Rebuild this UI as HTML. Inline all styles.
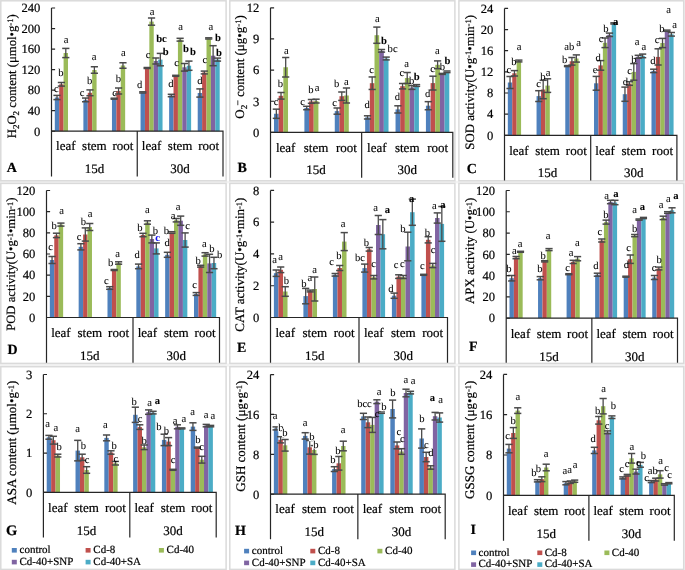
<!DOCTYPE html>
<html><head><meta charset="utf-8"><style>
html,body{margin:0;padding:0;background:#fff;}
svg{display:block;font-family:"Liberation Serif", serif;text-rendering:geometricPrecision;will-change:transform;filter:blur(0.3px);}
text{stroke:#000;stroke-width:0.2px;}
text.l{stroke-width:0.05px;}
</style></head><body>
<svg width="685" height="570" viewBox="0 0 685 570">
<rect x="0" y="0" width="685" height="570" fill="#fff"/>
<rect x="0" y="180.8" width="685" height="2.6" fill="#f3f3f3"/>
<rect x="0" y="363.4" width="685" height="3.3" fill="#f3f3f3"/>
<rect x="683.7" y="0" width="1.3" height="570" fill="#f3f3f3"/>
<rect x="0.8" y="0.8" width="225.3" height="180" fill="#fff" stroke="#dadada" stroke-width="1.5"/>
<rect x="54.8" y="97.5" width="4.4" height="33.7" fill="#4F81BD"/>
<rect x="59.2" y="84.3" width="4.4" height="46.9" fill="#C0504D"/>
<rect x="63.59" y="53" width="4.4" height="78.2" fill="#9BBB59"/>
<rect x="83.38" y="99.9" width="4.4" height="31.3" fill="#4F81BD"/>
<rect x="87.78" y="92.8" width="4.4" height="38.4" fill="#C0504D"/>
<rect x="92.18" y="70" width="4.4" height="61.2" fill="#9BBB59"/>
<rect x="111.96" y="98.7" width="4.4" height="32.5" fill="#4F81BD"/>
<rect x="116.36" y="91" width="4.4" height="40.2" fill="#C0504D"/>
<rect x="120.76" y="65.5" width="4.4" height="65.7" fill="#9BBB59"/>
<rect x="140.55" y="92.4" width="4.4" height="38.8" fill="#4F81BD"/>
<rect x="144.95" y="68" width="4.4" height="63.2" fill="#C0504D"/>
<rect x="149.34" y="21.6" width="4.4" height="109.6" fill="#9BBB59"/>
<rect x="153.74" y="61" width="4.4" height="70.2" fill="#8064A2"/>
<rect x="158.14" y="59.6" width="4.4" height="71.6" fill="#4BACC6"/>
<rect x="169.13" y="95.5" width="4.4" height="35.7" fill="#4F81BD"/>
<rect x="173.53" y="75.8" width="4.4" height="55.4" fill="#C0504D"/>
<rect x="177.93" y="39.7" width="4.4" height="91.5" fill="#9BBB59"/>
<rect x="182.32" y="67.3" width="4.4" height="63.9" fill="#8064A2"/>
<rect x="186.72" y="65.7" width="4.4" height="65.5" fill="#4BACC6"/>
<rect x="197.71" y="93" width="4.4" height="38.2" fill="#4F81BD"/>
<rect x="202.11" y="72.5" width="4.4" height="58.7" fill="#C0504D"/>
<rect x="206.51" y="38.4" width="4.4" height="92.8" fill="#9BBB59"/>
<rect x="210.91" y="55.7" width="4.4" height="75.5" fill="#8064A2"/>
<rect x="215.3" y="59.6" width="4.4" height="71.6" fill="#4BACC6"/>
<line x1="57" y1="95.4" x2="57" y2="99.6" stroke="#4a4a4a" stroke-width="1.3"/>
<line x1="53.4" y1="95.4" x2="60.6" y2="95.4" stroke="#4a4a4a" stroke-width="1.5"/>
<line x1="53.4" y1="99.6" x2="60.6" y2="99.6" stroke="#4a4a4a" stroke-width="1.5"/>
<line x1="61.39" y1="82.5" x2="61.39" y2="86.1" stroke="#4a4a4a" stroke-width="1.3"/>
<line x1="57.79" y1="82.5" x2="64.99" y2="82.5" stroke="#4a4a4a" stroke-width="1.5"/>
<line x1="57.79" y1="86.1" x2="64.99" y2="86.1" stroke="#4a4a4a" stroke-width="1.5"/>
<line x1="65.79" y1="48.4" x2="65.79" y2="57.6" stroke="#4a4a4a" stroke-width="1.3"/>
<line x1="62.19" y1="48.4" x2="69.39" y2="48.4" stroke="#4a4a4a" stroke-width="1.5"/>
<line x1="62.19" y1="57.6" x2="69.39" y2="57.6" stroke="#4a4a4a" stroke-width="1.5"/>
<line x1="85.58" y1="98.05" x2="85.58" y2="101.75" stroke="#4a4a4a" stroke-width="1.3"/>
<line x1="81.98" y1="98.05" x2="89.18" y2="98.05" stroke="#4a4a4a" stroke-width="1.5"/>
<line x1="81.98" y1="101.75" x2="89.18" y2="101.75" stroke="#4a4a4a" stroke-width="1.5"/>
<line x1="89.98" y1="89.9" x2="89.98" y2="95.7" stroke="#4a4a4a" stroke-width="1.3"/>
<line x1="86.38" y1="89.9" x2="93.58" y2="89.9" stroke="#4a4a4a" stroke-width="1.5"/>
<line x1="86.38" y1="95.7" x2="93.58" y2="95.7" stroke="#4a4a4a" stroke-width="1.5"/>
<line x1="94.38" y1="66.75" x2="94.38" y2="73.25" stroke="#4a4a4a" stroke-width="1.3"/>
<line x1="90.78" y1="66.75" x2="97.97" y2="66.75" stroke="#4a4a4a" stroke-width="1.5"/>
<line x1="90.78" y1="73.25" x2="97.97" y2="73.25" stroke="#4a4a4a" stroke-width="1.5"/>
<line x1="110.56" y1="98.2" x2="117.76" y2="98.2" stroke="#4a4a4a" stroke-width="1.5"/>
<line x1="110.56" y1="99.2" x2="117.76" y2="99.2" stroke="#4a4a4a" stroke-width="1.5"/>
<line x1="118.56" y1="88" x2="118.56" y2="94" stroke="#4a4a4a" stroke-width="1.3"/>
<line x1="114.96" y1="88" x2="122.16" y2="88" stroke="#4a4a4a" stroke-width="1.5"/>
<line x1="114.96" y1="94" x2="122.16" y2="94" stroke="#4a4a4a" stroke-width="1.5"/>
<line x1="122.96" y1="62.75" x2="122.96" y2="68.25" stroke="#4a4a4a" stroke-width="1.3"/>
<line x1="119.36" y1="62.75" x2="126.56" y2="62.75" stroke="#4a4a4a" stroke-width="1.5"/>
<line x1="119.36" y1="68.25" x2="126.56" y2="68.25" stroke="#4a4a4a" stroke-width="1.5"/>
<line x1="139.15" y1="91.8" x2="146.35" y2="91.8" stroke="#4a4a4a" stroke-width="1.5"/>
<line x1="139.15" y1="93" x2="146.35" y2="93" stroke="#4a4a4a" stroke-width="1.5"/>
<line x1="143.54" y1="67.5" x2="150.74" y2="67.5" stroke="#4a4a4a" stroke-width="1.5"/>
<line x1="143.54" y1="68.5" x2="150.74" y2="68.5" stroke="#4a4a4a" stroke-width="1.5"/>
<line x1="151.54" y1="18" x2="151.54" y2="25.2" stroke="#4a4a4a" stroke-width="1.3"/>
<line x1="147.94" y1="18" x2="155.14" y2="18" stroke="#4a4a4a" stroke-width="1.5"/>
<line x1="147.94" y1="25.2" x2="155.14" y2="25.2" stroke="#4a4a4a" stroke-width="1.5"/>
<line x1="155.94" y1="58" x2="155.94" y2="64" stroke="#4a4a4a" stroke-width="1.3"/>
<line x1="152.34" y1="58" x2="159.54" y2="58" stroke="#4a4a4a" stroke-width="1.5"/>
<line x1="152.34" y1="64" x2="159.54" y2="64" stroke="#4a4a4a" stroke-width="1.5"/>
<line x1="160.34" y1="53.4" x2="160.34" y2="65.8" stroke="#4a4a4a" stroke-width="1.3"/>
<line x1="156.74" y1="53.4" x2="163.94" y2="53.4" stroke="#4a4a4a" stroke-width="1.5"/>
<line x1="156.74" y1="65.8" x2="163.94" y2="65.8" stroke="#4a4a4a" stroke-width="1.5"/>
<line x1="171.33" y1="94.3" x2="171.33" y2="96.7" stroke="#4a4a4a" stroke-width="1.3"/>
<line x1="167.73" y1="94.3" x2="174.93" y2="94.3" stroke="#4a4a4a" stroke-width="1.5"/>
<line x1="167.73" y1="96.7" x2="174.93" y2="96.7" stroke="#4a4a4a" stroke-width="1.5"/>
<line x1="172.13" y1="75.3" x2="179.33" y2="75.3" stroke="#4a4a4a" stroke-width="1.5"/>
<line x1="172.13" y1="76.3" x2="179.33" y2="76.3" stroke="#4a4a4a" stroke-width="1.5"/>
<line x1="180.12" y1="38.3" x2="180.12" y2="41.1" stroke="#4a4a4a" stroke-width="1.3"/>
<line x1="176.52" y1="38.3" x2="183.72" y2="38.3" stroke="#4a4a4a" stroke-width="1.5"/>
<line x1="176.52" y1="41.1" x2="183.72" y2="41.1" stroke="#4a4a4a" stroke-width="1.5"/>
<line x1="184.52" y1="63.5" x2="184.52" y2="71.1" stroke="#4a4a4a" stroke-width="1.3"/>
<line x1="180.92" y1="63.5" x2="188.12" y2="63.5" stroke="#4a4a4a" stroke-width="1.5"/>
<line x1="180.92" y1="71.1" x2="188.12" y2="71.1" stroke="#4a4a4a" stroke-width="1.5"/>
<line x1="188.92" y1="61.1" x2="188.92" y2="70.3" stroke="#4a4a4a" stroke-width="1.3"/>
<line x1="185.32" y1="61.1" x2="192.52" y2="61.1" stroke="#4a4a4a" stroke-width="1.5"/>
<line x1="185.32" y1="70.3" x2="192.52" y2="70.3" stroke="#4a4a4a" stroke-width="1.5"/>
<line x1="199.91" y1="88.9" x2="199.91" y2="97.1" stroke="#4a4a4a" stroke-width="1.3"/>
<line x1="196.31" y1="88.9" x2="203.51" y2="88.9" stroke="#4a4a4a" stroke-width="1.5"/>
<line x1="196.31" y1="97.1" x2="203.51" y2="97.1" stroke="#4a4a4a" stroke-width="1.5"/>
<line x1="204.31" y1="71.1" x2="204.31" y2="73.9" stroke="#4a4a4a" stroke-width="1.3"/>
<line x1="200.71" y1="71.1" x2="207.91" y2="71.1" stroke="#4a4a4a" stroke-width="1.5"/>
<line x1="200.71" y1="73.9" x2="207.91" y2="73.9" stroke="#4a4a4a" stroke-width="1.5"/>
<line x1="205.11" y1="37.8" x2="212.31" y2="37.8" stroke="#4a4a4a" stroke-width="1.5"/>
<line x1="205.11" y1="39" x2="212.31" y2="39" stroke="#4a4a4a" stroke-width="1.5"/>
<line x1="213.11" y1="45.7" x2="213.11" y2="65.7" stroke="#4a4a4a" stroke-width="1.3"/>
<line x1="209.51" y1="45.7" x2="216.71" y2="45.7" stroke="#4a4a4a" stroke-width="1.5"/>
<line x1="209.51" y1="65.7" x2="216.71" y2="65.7" stroke="#4a4a4a" stroke-width="1.5"/>
<line x1="217.5" y1="58.1" x2="217.5" y2="61.1" stroke="#4a4a4a" stroke-width="1.3"/>
<line x1="213.9" y1="58.1" x2="221.1" y2="58.1" stroke="#4a4a4a" stroke-width="1.5"/>
<line x1="213.9" y1="61.1" x2="221.1" y2="61.1" stroke="#4a4a4a" stroke-width="1.5"/>
<path d="M51.5 8V176.5M51.5 131.2H223V176.5M137.25 131.2V176.5" fill="none" stroke="#262626" stroke-width="1.2"/>
<text x="40.3" y="135.5" text-anchor="end" font-size="12.6">0</text>
<text x="40.3" y="114.97" text-anchor="end" font-size="12.6">40</text>
<text x="40.3" y="94.43" text-anchor="end" font-size="12.6">80</text>
<text x="40.3" y="73.9" text-anchor="end" font-size="12.6">120</text>
<text x="40.3" y="53.37" text-anchor="end" font-size="12.6">160</text>
<text x="40.3" y="32.83" text-anchor="end" font-size="12.6">200</text>
<text x="40.3" y="12.3" text-anchor="end" font-size="12.6">240</text>
<path d="M51.5 131.2h3.6M51.5 110.67h3.6M51.5 90.13h3.6M51.5 69.6h3.6M51.5 49.07h3.6M51.5 28.53h3.6M51.5 8h3.6" stroke="#262626" stroke-width="1.2"/>
<text x="65.79" y="150.2" text-anchor="middle" font-size="13">leaf</text>
<text x="94.38" y="150.2" text-anchor="middle" font-size="13">stem</text>
<text x="122.96" y="150.2" text-anchor="middle" font-size="13">root</text>
<text x="151.54" y="150.2" text-anchor="middle" font-size="13">leaf</text>
<text x="180.12" y="150.2" text-anchor="middle" font-size="13">stem</text>
<text x="208.71" y="150.2" text-anchor="middle" font-size="13">root</text>
<text x="94.38" y="172.8" text-anchor="middle" font-size="13">15d</text>
<text x="180.12" y="172.8" text-anchor="middle" font-size="13">30d</text>
<text x="6.7" y="172" font-size="14" font-weight="bold">A</text>
<text transform="translate(15.5,14.3) rotate(-90)" text-anchor="end" font-size="12.7">H<tspan font-size="9" dy="3.3">2</tspan><tspan dy="-3.3">O</tspan><tspan font-size="9" dy="3.3">2</tspan><tspan dy="-3.3"> content (μmol•g</tspan><tspan font-size="8.5" dy="-2.6">-1</tspan><tspan dy="2.6">)</tspan></text>
<text class="l" x="56.4" y="92.3" text-anchor="middle" font-size="10.6">c</text>
<text class="l" x="61" y="75.6" text-anchor="middle" font-size="10.6">b</text>
<text class="l" x="66" y="43.4" text-anchor="middle" font-size="10.6">a</text>
<text class="l" x="82.2" y="95.9" text-anchor="middle" font-size="10.6">c</text>
<text class="l" x="89.6" y="83.6" text-anchor="middle" font-size="10.6">b</text>
<text class="l" x="94.2" y="60.4" text-anchor="middle" font-size="10.6">a</text>
<text class="l" x="114.5" y="95.9" text-anchor="middle" font-size="10.6">c</text>
<text class="l" x="118.5" y="82.4" text-anchor="middle" font-size="10.6">b</text>
<text class="l" x="123.3" y="55.8" text-anchor="middle" font-size="10.6">a</text>
<text class="l" x="139.7" y="87.6" text-anchor="middle" font-size="10.6">d</text>
<text class="l" x="148" y="58.1" text-anchor="middle" font-size="10.6">c</text>
<text class="l" x="152" y="14.5" text-anchor="middle" font-size="10.6">a</text>
<text class="l" x="161.5" y="41.6" text-anchor="middle" font-size="10.6" font-weight="bold">bc</text>
<text class="l" x="165.8" y="54.6" text-anchor="middle" font-size="10.6" font-weight="bold">b</text>
<text class="l" x="171" y="87" text-anchor="middle" font-size="10.6">d</text>
<text class="l" x="176.5" y="65.9" text-anchor="middle" font-size="10.6">c</text>
<text class="l" x="180.5" y="29.6" text-anchor="middle" font-size="10.6">a</text>
<text class="l" x="186" y="52.2" text-anchor="middle" font-size="10.6" font-weight="bold">b</text>
<text class="l" x="193" y="55.2" text-anchor="middle" font-size="10.6" font-weight="bold">b</text>
<text class="l" x="200" y="83.6" text-anchor="middle" font-size="10.6">d</text>
<text class="l" x="204.9" y="62.8" text-anchor="middle" font-size="10.6">c</text>
<text class="l" x="210.8" y="30.4" text-anchor="middle" font-size="10.6">a</text>
<text class="l" x="217.9" y="41" text-anchor="middle" font-size="10.6" font-weight="bold">b</text>
<text class="l" x="219" y="56.2" text-anchor="middle" font-size="10.6" font-weight="bold">b</text>
<rect x="229.8" y="0.8" width="225.1" height="180" fill="#fff" stroke="#dadada" stroke-width="1.5"/>
<rect x="274.01" y="113.75" width="4.67" height="18.65" fill="#4F81BD"/>
<rect x="278.68" y="95.8" width="4.67" height="36.6" fill="#C0504D"/>
<rect x="283.35" y="67.25" width="4.67" height="65.15" fill="#9BBB59"/>
<rect x="304.39" y="108" width="4.67" height="24.4" fill="#4F81BD"/>
<rect x="309.06" y="101.4" width="4.67" height="31" fill="#C0504D"/>
<rect x="313.74" y="101.1" width="4.67" height="31.3" fill="#9BBB59"/>
<rect x="334.77" y="111.1" width="4.67" height="21.3" fill="#4F81BD"/>
<rect x="339.45" y="96.2" width="4.67" height="36.2" fill="#C0504D"/>
<rect x="344.12" y="95.5" width="4.67" height="36.9" fill="#9BBB59"/>
<rect x="365.16" y="117.4" width="4.67" height="15" fill="#4F81BD"/>
<rect x="369.83" y="83.2" width="4.67" height="49.2" fill="#C0504D"/>
<rect x="374.5" y="35.2" width="4.67" height="97.2" fill="#9BBB59"/>
<rect x="379.18" y="50.8" width="4.67" height="81.6" fill="#8064A2"/>
<rect x="383.85" y="58.5" width="4.67" height="73.9" fill="#4BACC6"/>
<rect x="395.54" y="109.4" width="4.67" height="23" fill="#4F81BD"/>
<rect x="400.21" y="86.2" width="4.67" height="46.2" fill="#C0504D"/>
<rect x="404.89" y="78" width="4.67" height="54.4" fill="#9BBB59"/>
<rect x="409.56" y="87.5" width="4.67" height="44.9" fill="#8064A2"/>
<rect x="414.24" y="85.5" width="4.67" height="46.9" fill="#4BACC6"/>
<rect x="425.92" y="105.7" width="4.67" height="26.7" fill="#4F81BD"/>
<rect x="430.6" y="83.1" width="4.67" height="49.3" fill="#C0504D"/>
<rect x="435.27" y="64.8" width="4.67" height="67.6" fill="#9BBB59"/>
<rect x="439.95" y="73.9" width="4.67" height="58.5" fill="#8064A2"/>
<rect x="444.62" y="71.8" width="4.67" height="60.6" fill="#4BACC6"/>
<line x1="276.34" y1="109.15" x2="276.34" y2="118.35" stroke="#4a4a4a" stroke-width="1.3"/>
<line x1="272.74" y1="109.15" x2="279.94" y2="109.15" stroke="#4a4a4a" stroke-width="1.5"/>
<line x1="272.74" y1="118.35" x2="279.94" y2="118.35" stroke="#4a4a4a" stroke-width="1.5"/>
<line x1="281.02" y1="92.5" x2="281.02" y2="99.1" stroke="#4a4a4a" stroke-width="1.3"/>
<line x1="277.42" y1="92.5" x2="284.62" y2="92.5" stroke="#4a4a4a" stroke-width="1.5"/>
<line x1="277.42" y1="99.1" x2="284.62" y2="99.1" stroke="#4a4a4a" stroke-width="1.5"/>
<line x1="285.69" y1="57.5" x2="285.69" y2="77" stroke="#4a4a4a" stroke-width="1.3"/>
<line x1="282.09" y1="57.5" x2="289.29" y2="57.5" stroke="#4a4a4a" stroke-width="1.5"/>
<line x1="282.09" y1="77" x2="289.29" y2="77" stroke="#4a4a4a" stroke-width="1.5"/>
<line x1="306.73" y1="106.3" x2="306.73" y2="109.7" stroke="#4a4a4a" stroke-width="1.3"/>
<line x1="303.13" y1="106.3" x2="310.33" y2="106.3" stroke="#4a4a4a" stroke-width="1.5"/>
<line x1="303.13" y1="109.7" x2="310.33" y2="109.7" stroke="#4a4a4a" stroke-width="1.5"/>
<line x1="311.4" y1="99.5" x2="311.4" y2="103.3" stroke="#4a4a4a" stroke-width="1.3"/>
<line x1="307.8" y1="99.5" x2="315" y2="99.5" stroke="#4a4a4a" stroke-width="1.5"/>
<line x1="307.8" y1="103.3" x2="315" y2="103.3" stroke="#4a4a4a" stroke-width="1.5"/>
<line x1="316.07" y1="99.2" x2="316.07" y2="103" stroke="#4a4a4a" stroke-width="1.3"/>
<line x1="312.47" y1="99.2" x2="319.67" y2="99.2" stroke="#4a4a4a" stroke-width="1.5"/>
<line x1="312.47" y1="103" x2="319.67" y2="103" stroke="#4a4a4a" stroke-width="1.5"/>
<line x1="337.11" y1="108" x2="337.11" y2="114.2" stroke="#4a4a4a" stroke-width="1.3"/>
<line x1="333.51" y1="108" x2="340.71" y2="108" stroke="#4a4a4a" stroke-width="1.5"/>
<line x1="333.51" y1="114.2" x2="340.71" y2="114.2" stroke="#4a4a4a" stroke-width="1.5"/>
<line x1="341.78" y1="92" x2="341.78" y2="100.4" stroke="#4a4a4a" stroke-width="1.3"/>
<line x1="338.18" y1="92" x2="345.38" y2="92" stroke="#4a4a4a" stroke-width="1.5"/>
<line x1="338.18" y1="100.4" x2="345.38" y2="100.4" stroke="#4a4a4a" stroke-width="1.5"/>
<line x1="346.46" y1="88" x2="346.46" y2="103" stroke="#4a4a4a" stroke-width="1.3"/>
<line x1="342.86" y1="88" x2="350.06" y2="88" stroke="#4a4a4a" stroke-width="1.5"/>
<line x1="342.86" y1="103" x2="350.06" y2="103" stroke="#4a4a4a" stroke-width="1.5"/>
<line x1="367.49" y1="115.8" x2="367.49" y2="119" stroke="#4a4a4a" stroke-width="1.3"/>
<line x1="363.89" y1="115.8" x2="371.09" y2="115.8" stroke="#4a4a4a" stroke-width="1.5"/>
<line x1="363.89" y1="119" x2="371.09" y2="119" stroke="#4a4a4a" stroke-width="1.5"/>
<line x1="372.17" y1="76.95" x2="372.17" y2="89.45" stroke="#4a4a4a" stroke-width="1.3"/>
<line x1="368.57" y1="76.95" x2="375.77" y2="76.95" stroke="#4a4a4a" stroke-width="1.5"/>
<line x1="368.57" y1="89.45" x2="375.77" y2="89.45" stroke="#4a4a4a" stroke-width="1.5"/>
<line x1="376.84" y1="27.1" x2="376.84" y2="43.3" stroke="#4a4a4a" stroke-width="1.3"/>
<line x1="373.24" y1="27.1" x2="380.44" y2="27.1" stroke="#4a4a4a" stroke-width="1.5"/>
<line x1="373.24" y1="43.3" x2="380.44" y2="43.3" stroke="#4a4a4a" stroke-width="1.5"/>
<line x1="381.52" y1="49.5" x2="381.52" y2="52.1" stroke="#4a4a4a" stroke-width="1.3"/>
<line x1="377.92" y1="49.5" x2="385.12" y2="49.5" stroke="#4a4a4a" stroke-width="1.5"/>
<line x1="377.92" y1="52.1" x2="385.12" y2="52.1" stroke="#4a4a4a" stroke-width="1.5"/>
<line x1="386.19" y1="57.1" x2="386.19" y2="59.9" stroke="#4a4a4a" stroke-width="1.3"/>
<line x1="382.59" y1="57.1" x2="389.79" y2="57.1" stroke="#4a4a4a" stroke-width="1.5"/>
<line x1="382.59" y1="59.9" x2="389.79" y2="59.9" stroke="#4a4a4a" stroke-width="1.5"/>
<line x1="397.88" y1="105.8" x2="397.88" y2="113" stroke="#4a4a4a" stroke-width="1.3"/>
<line x1="394.28" y1="105.8" x2="401.48" y2="105.8" stroke="#4a4a4a" stroke-width="1.5"/>
<line x1="394.28" y1="113" x2="401.48" y2="113" stroke="#4a4a4a" stroke-width="1.5"/>
<line x1="402.55" y1="83.5" x2="402.55" y2="88.9" stroke="#4a4a4a" stroke-width="1.3"/>
<line x1="398.95" y1="83.5" x2="406.15" y2="83.5" stroke="#4a4a4a" stroke-width="1.5"/>
<line x1="398.95" y1="88.9" x2="406.15" y2="88.9" stroke="#4a4a4a" stroke-width="1.5"/>
<line x1="407.22" y1="72.5" x2="407.22" y2="83.5" stroke="#4a4a4a" stroke-width="1.3"/>
<line x1="403.62" y1="72.5" x2="410.82" y2="72.5" stroke="#4a4a4a" stroke-width="1.5"/>
<line x1="403.62" y1="83.5" x2="410.82" y2="83.5" stroke="#4a4a4a" stroke-width="1.5"/>
<line x1="411.9" y1="85.6" x2="411.9" y2="89.4" stroke="#4a4a4a" stroke-width="1.3"/>
<line x1="408.3" y1="85.6" x2="415.5" y2="85.6" stroke="#4a4a4a" stroke-width="1.5"/>
<line x1="408.3" y1="89.4" x2="415.5" y2="89.4" stroke="#4a4a4a" stroke-width="1.5"/>
<line x1="416.57" y1="84.6" x2="416.57" y2="86.4" stroke="#4a4a4a" stroke-width="1.3"/>
<line x1="412.97" y1="84.6" x2="420.17" y2="84.6" stroke="#4a4a4a" stroke-width="1.5"/>
<line x1="412.97" y1="86.4" x2="420.17" y2="86.4" stroke="#4a4a4a" stroke-width="1.5"/>
<line x1="428.26" y1="101.65" x2="428.26" y2="109.75" stroke="#4a4a4a" stroke-width="1.3"/>
<line x1="424.66" y1="101.65" x2="431.86" y2="101.65" stroke="#4a4a4a" stroke-width="1.5"/>
<line x1="424.66" y1="109.75" x2="431.86" y2="109.75" stroke="#4a4a4a" stroke-width="1.5"/>
<line x1="432.93" y1="76.2" x2="432.93" y2="90" stroke="#4a4a4a" stroke-width="1.3"/>
<line x1="429.33" y1="76.2" x2="436.53" y2="76.2" stroke="#4a4a4a" stroke-width="1.5"/>
<line x1="429.33" y1="90" x2="436.53" y2="90" stroke="#4a4a4a" stroke-width="1.5"/>
<line x1="437.61" y1="60.9" x2="437.61" y2="68.7" stroke="#4a4a4a" stroke-width="1.3"/>
<line x1="434.01" y1="60.9" x2="441.21" y2="60.9" stroke="#4a4a4a" stroke-width="1.5"/>
<line x1="434.01" y1="68.7" x2="441.21" y2="68.7" stroke="#4a4a4a" stroke-width="1.5"/>
<line x1="438.68" y1="73.4" x2="445.88" y2="73.4" stroke="#4a4a4a" stroke-width="1.5"/>
<line x1="438.68" y1="74.4" x2="445.88" y2="74.4" stroke="#4a4a4a" stroke-width="1.5"/>
<line x1="443.36" y1="71" x2="450.56" y2="71" stroke="#4a4a4a" stroke-width="1.5"/>
<line x1="443.36" y1="72.6" x2="450.56" y2="72.6" stroke="#4a4a4a" stroke-width="1.5"/>
<path d="M270.5 7.8V177.8M270.5 132.4H452.8V177.8M361.65 132.4V177.8" fill="none" stroke="#262626" stroke-width="1.2"/>
<text x="259.3" y="136.7" text-anchor="end" font-size="12.6">0</text>
<text x="259.3" y="105.55" text-anchor="end" font-size="12.6">3</text>
<text x="259.3" y="74.4" text-anchor="end" font-size="12.6">6</text>
<text x="259.3" y="43.25" text-anchor="end" font-size="12.6">9</text>
<text x="259.3" y="12.1" text-anchor="end" font-size="12.6">12</text>
<path d="M270.5 132.4h3.6M270.5 101.25h3.6M270.5 70.1h3.6M270.5 38.95h3.6M270.5 7.8h3.6" stroke="#262626" stroke-width="1.2"/>
<text x="285.69" y="151.8" text-anchor="middle" font-size="13">leaf</text>
<text x="316.07" y="151.8" text-anchor="middle" font-size="13">stem</text>
<text x="346.46" y="151.8" text-anchor="middle" font-size="13">root</text>
<text x="376.84" y="151.8" text-anchor="middle" font-size="13">leaf</text>
<text x="407.23" y="151.8" text-anchor="middle" font-size="13">stem</text>
<text x="437.61" y="151.8" text-anchor="middle" font-size="13">root</text>
<text x="316.07" y="174.1" text-anchor="middle" font-size="13">15d</text>
<text x="407.22" y="174.1" text-anchor="middle" font-size="13">30d</text>
<text x="237.4" y="171.6" font-size="14" font-weight="bold">B</text>
<text transform="translate(243.5,15.2) rotate(-90)" text-anchor="end" font-size="13">O<tspan font-size="9" dy="3.3">2</tspan><tspan font-size="9.5" dy="-6.3" dx="-0.8">−</tspan><tspan dy="3"> content (μg•g</tspan><tspan font-size="8.5" dy="-2.6">-1</tspan><tspan dy="2.6">)</tspan></text>
<text class="l" x="276" y="105.4" text-anchor="middle" font-size="10.6">c</text>
<text class="l" x="280.5" y="86.6" text-anchor="middle" font-size="10.6">b</text>
<text class="l" x="286.3" y="53.7" text-anchor="middle" font-size="10.6">a</text>
<text class="l" x="302.7" y="104.9" text-anchor="middle" font-size="10.6">c</text>
<text class="l" x="311" y="92.8" text-anchor="middle" font-size="10.6">b</text>
<text class="l" x="317.2" y="91.1" text-anchor="middle" font-size="10.6">a</text>
<text class="l" x="334.7" y="106.1" text-anchor="middle" font-size="10.6">c</text>
<text class="l" x="336.7" y="86.9" text-anchor="middle" font-size="10.6">b</text>
<text class="l" x="346.3" y="85.4" text-anchor="middle" font-size="10.6">a</text>
<text class="l" x="367.2" y="108.3" text-anchor="middle" font-size="10.6">d</text>
<text class="l" x="371.6" y="73.4" text-anchor="middle" font-size="10.6">c</text>
<text class="l" x="377.3" y="22.3" text-anchor="middle" font-size="10.6">a</text>
<text class="l" x="383.9" y="43.9" text-anchor="middle" font-size="10.6" font-weight="bold">b</text>
<text class="l" x="392.6" y="52" text-anchor="middle" font-size="10.6">bc</text>
<text class="l" x="397.5" y="100.2" text-anchor="middle" font-size="10.6">d</text>
<text class="l" x="401.9" y="76" text-anchor="middle" font-size="10.6">c</text>
<text class="l" x="406.7" y="66.8" text-anchor="middle" font-size="10.6">a</text>
<text class="l" x="411.7" y="84.2" text-anchor="middle" font-size="10.6">b</text>
<text class="l" x="416.8" y="80" text-anchor="middle" font-size="10.6" font-weight="bold">b</text>
<text class="l" x="427.7" y="96.9" text-anchor="middle" font-size="10.6">d</text>
<text class="l" x="432.6" y="71.6" text-anchor="middle" font-size="10.6">c</text>
<text class="l" x="437.4" y="54.1" text-anchor="middle" font-size="10.6">a</text>
<text class="l" x="442.4" y="69.5" text-anchor="middle" font-size="10.6">b</text>
<text class="l" x="447.5" y="64" text-anchor="middle" font-size="10.6" font-weight="bold">b</text>
<rect x="458.9" y="0.8" width="224.8" height="180" fill="#fff" stroke="#dadada" stroke-width="1.5"/>
<rect x="507.82" y="82.5" width="4.42" height="52.8" fill="#4F81BD"/>
<rect x="512.24" y="73.3" width="4.42" height="62" fill="#C0504D"/>
<rect x="516.66" y="61" width="4.42" height="74.3" fill="#9BBB59"/>
<rect x="536.55" y="96.1" width="4.42" height="39.2" fill="#4F81BD"/>
<rect x="540.97" y="89.5" width="4.42" height="45.8" fill="#C0504D"/>
<rect x="545.39" y="85.6" width="4.42" height="49.7" fill="#9BBB59"/>
<rect x="565.28" y="66.1" width="4.42" height="69.2" fill="#4F81BD"/>
<rect x="569.7" y="61.3" width="4.42" height="74" fill="#C0504D"/>
<rect x="574.12" y="58.5" width="4.42" height="76.8" fill="#9BBB59"/>
<rect x="594.02" y="83.3" width="4.42" height="52" fill="#4F81BD"/>
<rect x="598.44" y="65.4" width="4.42" height="69.9" fill="#C0504D"/>
<rect x="602.86" y="42.8" width="4.42" height="92.5" fill="#9BBB59"/>
<rect x="607.28" y="34.8" width="4.42" height="100.5" fill="#8064A2"/>
<rect x="611.7" y="23.4" width="4.42" height="111.9" fill="#4BACC6"/>
<rect x="622.75" y="94.2" width="4.42" height="41.1" fill="#4F81BD"/>
<rect x="627.17" y="83.5" width="4.42" height="51.8" fill="#C0504D"/>
<rect x="631.59" y="71.9" width="4.42" height="63.4" fill="#9BBB59"/>
<rect x="636.01" y="56.8" width="4.42" height="78.5" fill="#8064A2"/>
<rect x="640.43" y="55.9" width="4.42" height="79.4" fill="#4BACC6"/>
<rect x="651.48" y="70.9" width="4.42" height="64.4" fill="#4F81BD"/>
<rect x="655.9" y="56.9" width="4.42" height="78.4" fill="#C0504D"/>
<rect x="660.32" y="43" width="4.42" height="92.3" fill="#9BBB59"/>
<rect x="664.74" y="30.7" width="4.42" height="104.6" fill="#8064A2"/>
<rect x="669.16" y="34.3" width="4.42" height="101" fill="#4BACC6"/>
<line x1="510.03" y1="76.5" x2="510.03" y2="88.5" stroke="#4a4a4a" stroke-width="1.3"/>
<line x1="506.43" y1="76.5" x2="513.63" y2="76.5" stroke="#4a4a4a" stroke-width="1.5"/>
<line x1="506.43" y1="88.5" x2="513.63" y2="88.5" stroke="#4a4a4a" stroke-width="1.5"/>
<line x1="514.45" y1="70.6" x2="514.45" y2="76" stroke="#4a4a4a" stroke-width="1.3"/>
<line x1="510.85" y1="70.6" x2="518.05" y2="70.6" stroke="#4a4a4a" stroke-width="1.5"/>
<line x1="510.85" y1="76" x2="518.05" y2="76" stroke="#4a4a4a" stroke-width="1.5"/>
<line x1="518.87" y1="60.1" x2="518.87" y2="61.9" stroke="#4a4a4a" stroke-width="1.3"/>
<line x1="515.27" y1="60.1" x2="522.47" y2="60.1" stroke="#4a4a4a" stroke-width="1.5"/>
<line x1="515.27" y1="61.9" x2="522.47" y2="61.9" stroke="#4a4a4a" stroke-width="1.5"/>
<line x1="538.76" y1="90.7" x2="538.76" y2="101.5" stroke="#4a4a4a" stroke-width="1.3"/>
<line x1="535.16" y1="90.7" x2="542.36" y2="90.7" stroke="#4a4a4a" stroke-width="1.5"/>
<line x1="535.16" y1="101.5" x2="542.36" y2="101.5" stroke="#4a4a4a" stroke-width="1.5"/>
<line x1="543.18" y1="80.3" x2="543.18" y2="98.7" stroke="#4a4a4a" stroke-width="1.3"/>
<line x1="539.58" y1="80.3" x2="546.78" y2="80.3" stroke="#4a4a4a" stroke-width="1.5"/>
<line x1="539.58" y1="98.7" x2="546.78" y2="98.7" stroke="#4a4a4a" stroke-width="1.5"/>
<line x1="547.6" y1="78.8" x2="547.6" y2="92.4" stroke="#4a4a4a" stroke-width="1.3"/>
<line x1="544" y1="78.8" x2="551.2" y2="78.8" stroke="#4a4a4a" stroke-width="1.5"/>
<line x1="544" y1="92.4" x2="551.2" y2="92.4" stroke="#4a4a4a" stroke-width="1.5"/>
<line x1="563.89" y1="65.6" x2="571.09" y2="65.6" stroke="#4a4a4a" stroke-width="1.5"/>
<line x1="563.89" y1="66.6" x2="571.09" y2="66.6" stroke="#4a4a4a" stroke-width="1.5"/>
<line x1="571.91" y1="57.5" x2="571.91" y2="65.1" stroke="#4a4a4a" stroke-width="1.3"/>
<line x1="568.31" y1="57.5" x2="575.51" y2="57.5" stroke="#4a4a4a" stroke-width="1.5"/>
<line x1="568.31" y1="65.1" x2="575.51" y2="65.1" stroke="#4a4a4a" stroke-width="1.5"/>
<line x1="576.33" y1="54.9" x2="576.33" y2="62.1" stroke="#4a4a4a" stroke-width="1.3"/>
<line x1="572.73" y1="54.9" x2="579.93" y2="54.9" stroke="#4a4a4a" stroke-width="1.5"/>
<line x1="572.73" y1="62.1" x2="579.93" y2="62.1" stroke="#4a4a4a" stroke-width="1.5"/>
<line x1="596.23" y1="76.4" x2="596.23" y2="90.2" stroke="#4a4a4a" stroke-width="1.3"/>
<line x1="592.63" y1="76.4" x2="599.83" y2="76.4" stroke="#4a4a4a" stroke-width="1.5"/>
<line x1="592.63" y1="90.2" x2="599.83" y2="90.2" stroke="#4a4a4a" stroke-width="1.5"/>
<line x1="600.65" y1="60.6" x2="600.65" y2="70.2" stroke="#4a4a4a" stroke-width="1.3"/>
<line x1="597.05" y1="60.6" x2="604.25" y2="60.6" stroke="#4a4a4a" stroke-width="1.5"/>
<line x1="597.05" y1="70.2" x2="604.25" y2="70.2" stroke="#4a4a4a" stroke-width="1.5"/>
<line x1="605.07" y1="38" x2="605.07" y2="47.6" stroke="#4a4a4a" stroke-width="1.3"/>
<line x1="601.47" y1="38" x2="608.67" y2="38" stroke="#4a4a4a" stroke-width="1.5"/>
<line x1="601.47" y1="47.6" x2="608.67" y2="47.6" stroke="#4a4a4a" stroke-width="1.5"/>
<line x1="609.49" y1="33.1" x2="609.49" y2="36.5" stroke="#4a4a4a" stroke-width="1.3"/>
<line x1="605.89" y1="33.1" x2="613.09" y2="33.1" stroke="#4a4a4a" stroke-width="1.5"/>
<line x1="605.89" y1="36.5" x2="613.09" y2="36.5" stroke="#4a4a4a" stroke-width="1.5"/>
<line x1="610.31" y1="22.8" x2="617.51" y2="22.8" stroke="#4a4a4a" stroke-width="1.5"/>
<line x1="610.31" y1="24" x2="617.51" y2="24" stroke="#4a4a4a" stroke-width="1.5"/>
<line x1="624.96" y1="87.1" x2="624.96" y2="101.3" stroke="#4a4a4a" stroke-width="1.3"/>
<line x1="621.36" y1="87.1" x2="628.56" y2="87.1" stroke="#4a4a4a" stroke-width="1.5"/>
<line x1="621.36" y1="101.3" x2="628.56" y2="101.3" stroke="#4a4a4a" stroke-width="1.5"/>
<line x1="629.38" y1="81.7" x2="629.38" y2="85.3" stroke="#4a4a4a" stroke-width="1.3"/>
<line x1="625.78" y1="81.7" x2="632.98" y2="81.7" stroke="#4a4a4a" stroke-width="1.5"/>
<line x1="625.78" y1="85.3" x2="632.98" y2="85.3" stroke="#4a4a4a" stroke-width="1.5"/>
<line x1="633.8" y1="63.6" x2="633.8" y2="80.2" stroke="#4a4a4a" stroke-width="1.3"/>
<line x1="630.2" y1="63.6" x2="637.4" y2="63.6" stroke="#4a4a4a" stroke-width="1.5"/>
<line x1="630.2" y1="80.2" x2="637.4" y2="80.2" stroke="#4a4a4a" stroke-width="1.5"/>
<line x1="638.22" y1="55.3" x2="638.22" y2="58.3" stroke="#4a4a4a" stroke-width="1.3"/>
<line x1="634.62" y1="55.3" x2="641.82" y2="55.3" stroke="#4a4a4a" stroke-width="1.5"/>
<line x1="634.62" y1="58.3" x2="641.82" y2="58.3" stroke="#4a4a4a" stroke-width="1.5"/>
<line x1="642.64" y1="54.1" x2="642.64" y2="57.7" stroke="#4a4a4a" stroke-width="1.3"/>
<line x1="639.04" y1="54.1" x2="646.24" y2="54.1" stroke="#4a4a4a" stroke-width="1.5"/>
<line x1="639.04" y1="57.7" x2="646.24" y2="57.7" stroke="#4a4a4a" stroke-width="1.5"/>
<line x1="653.69" y1="69.2" x2="653.69" y2="72.6" stroke="#4a4a4a" stroke-width="1.3"/>
<line x1="650.09" y1="69.2" x2="657.29" y2="69.2" stroke="#4a4a4a" stroke-width="1.5"/>
<line x1="650.09" y1="72.6" x2="657.29" y2="72.6" stroke="#4a4a4a" stroke-width="1.5"/>
<line x1="658.11" y1="48.8" x2="658.11" y2="65" stroke="#4a4a4a" stroke-width="1.3"/>
<line x1="654.51" y1="48.8" x2="661.71" y2="48.8" stroke="#4a4a4a" stroke-width="1.5"/>
<line x1="654.51" y1="65" x2="661.71" y2="65" stroke="#4a4a4a" stroke-width="1.5"/>
<line x1="662.53" y1="38.4" x2="662.53" y2="47.6" stroke="#4a4a4a" stroke-width="1.3"/>
<line x1="658.93" y1="38.4" x2="666.13" y2="38.4" stroke="#4a4a4a" stroke-width="1.5"/>
<line x1="658.93" y1="47.6" x2="666.13" y2="47.6" stroke="#4a4a4a" stroke-width="1.5"/>
<line x1="663.35" y1="30.1" x2="670.55" y2="30.1" stroke="#4a4a4a" stroke-width="1.5"/>
<line x1="663.35" y1="31.3" x2="670.55" y2="31.3" stroke="#4a4a4a" stroke-width="1.5"/>
<line x1="671.37" y1="32.5" x2="671.37" y2="36.1" stroke="#4a4a4a" stroke-width="1.3"/>
<line x1="667.77" y1="32.5" x2="674.97" y2="32.5" stroke="#4a4a4a" stroke-width="1.5"/>
<line x1="667.77" y1="36.1" x2="674.97" y2="36.1" stroke="#4a4a4a" stroke-width="1.5"/>
<path d="M504.5 8.4V180.6M504.5 135.3H676.9V180.6M590.7 135.3V180.6" fill="none" stroke="#262626" stroke-width="1.2"/>
<text x="493.3" y="139.6" text-anchor="end" font-size="12.6">0</text>
<text x="493.3" y="118.45" text-anchor="end" font-size="12.6">4</text>
<text x="493.3" y="97.3" text-anchor="end" font-size="12.6">8</text>
<text x="493.3" y="76.15" text-anchor="end" font-size="12.6">12</text>
<text x="493.3" y="55" text-anchor="end" font-size="12.6">16</text>
<text x="493.3" y="33.85" text-anchor="end" font-size="12.6">20</text>
<text x="493.3" y="12.7" text-anchor="end" font-size="12.6">24</text>
<path d="M504.5 135.3h3.6M504.5 114.15h3.6M504.5 93h3.6M504.5 71.85h3.6M504.5 50.7h3.6M504.5 29.55h3.6M504.5 8.4h3.6" stroke="#262626" stroke-width="1.2"/>
<text x="518.87" y="155" text-anchor="middle" font-size="13">leaf</text>
<text x="547.6" y="155" text-anchor="middle" font-size="13">stem</text>
<text x="576.33" y="155" text-anchor="middle" font-size="13">root</text>
<text x="605.07" y="155" text-anchor="middle" font-size="13">leaf</text>
<text x="633.8" y="155" text-anchor="middle" font-size="13">stem</text>
<text x="662.53" y="155" text-anchor="middle" font-size="13">root</text>
<text x="547.6" y="177.4" text-anchor="middle" font-size="13">15d</text>
<text x="633.8" y="177.4" text-anchor="middle" font-size="13">30d</text>
<text x="466.7" y="172.8" font-size="14" font-weight="bold">C</text>
<text transform="translate(473.9,15) rotate(-90)" text-anchor="end" font-size="12.83">SOD activity(U•g<tspan font-size="8.5" dy="-2.6">-1</tspan><tspan dy="2.6">•min</tspan><tspan font-size="8.5" dy="-2.6">-1</tspan><tspan dy="2.6">)</tspan></text>
<text class="l" x="508.8" y="72.7" text-anchor="middle" font-size="10.6">c</text>
<text class="l" x="513.9" y="64.9" text-anchor="middle" font-size="10.6">b</text>
<text class="l" x="519" y="50.1" text-anchor="middle" font-size="10.6">a</text>
<text class="l" x="538.6" y="86.6" text-anchor="middle" font-size="10.6">c</text>
<text class="l" x="542.8" y="79.6" text-anchor="middle" font-size="10.6">b</text>
<text class="l" x="548" y="75.6" text-anchor="middle" font-size="10.6">a</text>
<text class="l" x="564.6" y="63.2" text-anchor="middle" font-size="10.6">b</text>
<text class="l" x="569.2" y="50.1" text-anchor="middle" font-size="10.6">ab</text>
<text class="l" x="578.6" y="45.8" text-anchor="middle" font-size="10.6">a</text>
<text class="l" x="595.2" y="73.3" text-anchor="middle" font-size="10.6">e</text>
<text class="l" x="598.1" y="61.3" text-anchor="middle" font-size="10.6">d</text>
<text class="l" x="601.2" y="42.1" text-anchor="middle" font-size="10.6">c</text>
<text class="l" x="606" y="32" text-anchor="middle" font-size="10.6">b</text>
<text class="l" x="615.6" y="25.2" text-anchor="middle" font-size="10.6" font-weight="bold">a</text>
<text class="l" x="625.4" y="84.7" text-anchor="middle" font-size="10.6">d</text>
<text class="l" x="629.7" y="74.3" text-anchor="middle" font-size="10.6">c</text>
<text class="l" x="634" y="62.6" text-anchor="middle" font-size="10.6">b</text>
<text class="l" x="637.1" y="45.4" text-anchor="middle" font-size="10.6">a</text>
<text class="l" x="643.9" y="49.7" text-anchor="middle" font-size="10.6">a</text>
<text class="l" x="652.9" y="64.2" text-anchor="middle" font-size="10.6">d</text>
<text class="l" x="657.2" y="42.8" text-anchor="middle" font-size="10.6">c</text>
<text class="l" x="662" y="32" text-anchor="middle" font-size="10.6">b</text>
<text class="l" x="668.5" y="13.2" text-anchor="middle" font-size="10.6">a</text>
<text class="l" x="674.5" y="28.4" text-anchor="middle" font-size="10.6">a</text>
<rect x="0.8" y="183.4" width="225.3" height="180" fill="#fff" stroke="#dadada" stroke-width="1.5"/>
<rect x="49.83" y="260" width="4.44" height="57.5" fill="#4F81BD"/>
<rect x="54.26" y="235.4" width="4.44" height="82.1" fill="#C0504D"/>
<rect x="58.7" y="224.6" width="4.44" height="92.9" fill="#9BBB59"/>
<rect x="78.66" y="246.8" width="4.44" height="70.7" fill="#4F81BD"/>
<rect x="83.1" y="234.5" width="4.44" height="83" fill="#C0504D"/>
<rect x="87.53" y="227" width="4.44" height="90.5" fill="#9BBB59"/>
<rect x="107.49" y="288" width="4.44" height="29.5" fill="#4F81BD"/>
<rect x="111.93" y="270" width="4.44" height="47.5" fill="#C0504D"/>
<rect x="116.37" y="263" width="4.44" height="54.5" fill="#9BBB59"/>
<rect x="136.33" y="266.4" width="4.44" height="51.1" fill="#4F81BD"/>
<rect x="140.76" y="235" width="4.44" height="82.5" fill="#C0504D"/>
<rect x="145.2" y="222.5" width="4.44" height="95" fill="#9BBB59"/>
<rect x="149.63" y="239" width="4.44" height="78.5" fill="#8064A2"/>
<rect x="154.07" y="248.4" width="4.44" height="69.1" fill="#4BACC6"/>
<rect x="165.16" y="254.8" width="4.44" height="62.7" fill="#4F81BD"/>
<rect x="169.6" y="232.5" width="4.44" height="85" fill="#C0504D"/>
<rect x="174.03" y="220.2" width="4.44" height="97.3" fill="#9BBB59"/>
<rect x="178.47" y="220.7" width="4.44" height="96.8" fill="#8064A2"/>
<rect x="182.9" y="240" width="4.44" height="77.5" fill="#4BACC6"/>
<rect x="193.99" y="294" width="4.44" height="23.5" fill="#4F81BD"/>
<rect x="198.43" y="266.2" width="4.44" height="51.3" fill="#C0504D"/>
<rect x="202.87" y="254.4" width="4.44" height="63.1" fill="#9BBB59"/>
<rect x="207.3" y="263.4" width="4.44" height="54.1" fill="#8064A2"/>
<rect x="211.74" y="263" width="4.44" height="54.5" fill="#4BACC6"/>
<line x1="52.04" y1="256.5" x2="52.04" y2="263.5" stroke="#4a4a4a" stroke-width="1.3"/>
<line x1="48.44" y1="256.5" x2="55.64" y2="256.5" stroke="#4a4a4a" stroke-width="1.5"/>
<line x1="48.44" y1="263.5" x2="55.64" y2="263.5" stroke="#4a4a4a" stroke-width="1.5"/>
<line x1="56.48" y1="233.2" x2="56.48" y2="237.6" stroke="#4a4a4a" stroke-width="1.3"/>
<line x1="52.88" y1="233.2" x2="60.08" y2="233.2" stroke="#4a4a4a" stroke-width="1.5"/>
<line x1="52.88" y1="237.6" x2="60.08" y2="237.6" stroke="#4a4a4a" stroke-width="1.5"/>
<line x1="60.92" y1="223.1" x2="60.92" y2="226.1" stroke="#4a4a4a" stroke-width="1.3"/>
<line x1="57.32" y1="223.1" x2="64.52" y2="223.1" stroke="#4a4a4a" stroke-width="1.5"/>
<line x1="57.32" y1="226.1" x2="64.52" y2="226.1" stroke="#4a4a4a" stroke-width="1.5"/>
<line x1="80.88" y1="243.7" x2="80.88" y2="249.9" stroke="#4a4a4a" stroke-width="1.3"/>
<line x1="77.28" y1="243.7" x2="84.48" y2="243.7" stroke="#4a4a4a" stroke-width="1.5"/>
<line x1="77.28" y1="249.9" x2="84.48" y2="249.9" stroke="#4a4a4a" stroke-width="1.5"/>
<line x1="85.31" y1="227.9" x2="85.31" y2="241.1" stroke="#4a4a4a" stroke-width="1.3"/>
<line x1="81.71" y1="227.9" x2="88.91" y2="227.9" stroke="#4a4a4a" stroke-width="1.5"/>
<line x1="81.71" y1="241.1" x2="88.91" y2="241.1" stroke="#4a4a4a" stroke-width="1.5"/>
<line x1="89.75" y1="223.5" x2="89.75" y2="230.5" stroke="#4a4a4a" stroke-width="1.3"/>
<line x1="86.15" y1="223.5" x2="93.35" y2="223.5" stroke="#4a4a4a" stroke-width="1.5"/>
<line x1="86.15" y1="230.5" x2="93.35" y2="230.5" stroke="#4a4a4a" stroke-width="1.5"/>
<line x1="109.71" y1="286.7" x2="109.71" y2="289.3" stroke="#4a4a4a" stroke-width="1.3"/>
<line x1="106.11" y1="286.7" x2="113.31" y2="286.7" stroke="#4a4a4a" stroke-width="1.5"/>
<line x1="106.11" y1="289.3" x2="113.31" y2="289.3" stroke="#4a4a4a" stroke-width="1.5"/>
<line x1="110.55" y1="269.5" x2="117.75" y2="269.5" stroke="#4a4a4a" stroke-width="1.5"/>
<line x1="110.55" y1="270.5" x2="117.75" y2="270.5" stroke="#4a4a4a" stroke-width="1.5"/>
<line x1="118.58" y1="261.8" x2="118.58" y2="264.2" stroke="#4a4a4a" stroke-width="1.3"/>
<line x1="114.98" y1="261.8" x2="122.18" y2="261.8" stroke="#4a4a4a" stroke-width="1.5"/>
<line x1="114.98" y1="264.2" x2="122.18" y2="264.2" stroke="#4a4a4a" stroke-width="1.5"/>
<line x1="138.54" y1="264.1" x2="138.54" y2="268.7" stroke="#4a4a4a" stroke-width="1.3"/>
<line x1="134.94" y1="264.1" x2="142.14" y2="264.1" stroke="#4a4a4a" stroke-width="1.5"/>
<line x1="134.94" y1="268.7" x2="142.14" y2="268.7" stroke="#4a4a4a" stroke-width="1.5"/>
<line x1="142.98" y1="233.3" x2="142.98" y2="236.7" stroke="#4a4a4a" stroke-width="1.3"/>
<line x1="139.38" y1="233.3" x2="146.58" y2="233.3" stroke="#4a4a4a" stroke-width="1.5"/>
<line x1="139.38" y1="236.7" x2="146.58" y2="236.7" stroke="#4a4a4a" stroke-width="1.5"/>
<line x1="147.42" y1="220.8" x2="147.42" y2="224.2" stroke="#4a4a4a" stroke-width="1.3"/>
<line x1="143.82" y1="220.8" x2="151.02" y2="220.8" stroke="#4a4a4a" stroke-width="1.5"/>
<line x1="143.82" y1="224.2" x2="151.02" y2="224.2" stroke="#4a4a4a" stroke-width="1.5"/>
<line x1="151.85" y1="235.1" x2="151.85" y2="242.9" stroke="#4a4a4a" stroke-width="1.3"/>
<line x1="148.25" y1="235.1" x2="155.45" y2="235.1" stroke="#4a4a4a" stroke-width="1.5"/>
<line x1="148.25" y1="242.9" x2="155.45" y2="242.9" stroke="#4a4a4a" stroke-width="1.5"/>
<line x1="156.29" y1="242.9" x2="156.29" y2="253.9" stroke="#4a4a4a" stroke-width="1.3"/>
<line x1="152.69" y1="242.9" x2="159.89" y2="242.9" stroke="#4a4a4a" stroke-width="1.5"/>
<line x1="152.69" y1="253.9" x2="159.89" y2="253.9" stroke="#4a4a4a" stroke-width="1.5"/>
<line x1="167.38" y1="252.3" x2="167.38" y2="257.3" stroke="#4a4a4a" stroke-width="1.3"/>
<line x1="163.78" y1="252.3" x2="170.98" y2="252.3" stroke="#4a4a4a" stroke-width="1.5"/>
<line x1="163.78" y1="257.3" x2="170.98" y2="257.3" stroke="#4a4a4a" stroke-width="1.5"/>
<line x1="168.21" y1="231.7" x2="175.41" y2="231.7" stroke="#4a4a4a" stroke-width="1.5"/>
<line x1="168.21" y1="233.3" x2="175.41" y2="233.3" stroke="#4a4a4a" stroke-width="1.5"/>
<line x1="176.25" y1="218.5" x2="176.25" y2="221.9" stroke="#4a4a4a" stroke-width="1.3"/>
<line x1="172.65" y1="218.5" x2="179.85" y2="218.5" stroke="#4a4a4a" stroke-width="1.5"/>
<line x1="172.65" y1="221.9" x2="179.85" y2="221.9" stroke="#4a4a4a" stroke-width="1.5"/>
<line x1="180.69" y1="216.1" x2="180.69" y2="225.3" stroke="#4a4a4a" stroke-width="1.3"/>
<line x1="177.09" y1="216.1" x2="184.29" y2="216.1" stroke="#4a4a4a" stroke-width="1.5"/>
<line x1="177.09" y1="225.3" x2="184.29" y2="225.3" stroke="#4a4a4a" stroke-width="1.5"/>
<line x1="185.12" y1="232.9" x2="185.12" y2="247.1" stroke="#4a4a4a" stroke-width="1.3"/>
<line x1="181.52" y1="232.9" x2="188.72" y2="232.9" stroke="#4a4a4a" stroke-width="1.5"/>
<line x1="181.52" y1="247.1" x2="188.72" y2="247.1" stroke="#4a4a4a" stroke-width="1.5"/>
<line x1="196.21" y1="292.6" x2="196.21" y2="295.4" stroke="#4a4a4a" stroke-width="1.3"/>
<line x1="192.61" y1="292.6" x2="199.81" y2="292.6" stroke="#4a4a4a" stroke-width="1.5"/>
<line x1="192.61" y1="295.4" x2="199.81" y2="295.4" stroke="#4a4a4a" stroke-width="1.5"/>
<line x1="200.65" y1="265.3" x2="200.65" y2="267.1" stroke="#4a4a4a" stroke-width="1.3"/>
<line x1="197.05" y1="265.3" x2="204.25" y2="265.3" stroke="#4a4a4a" stroke-width="1.5"/>
<line x1="197.05" y1="267.1" x2="204.25" y2="267.1" stroke="#4a4a4a" stroke-width="1.5"/>
<line x1="205.08" y1="252.7" x2="205.08" y2="256.1" stroke="#4a4a4a" stroke-width="1.3"/>
<line x1="201.48" y1="252.7" x2="208.68" y2="252.7" stroke="#4a4a4a" stroke-width="1.5"/>
<line x1="201.48" y1="256.1" x2="208.68" y2="256.1" stroke="#4a4a4a" stroke-width="1.5"/>
<line x1="209.52" y1="254.3" x2="209.52" y2="272.5" stroke="#4a4a4a" stroke-width="1.3"/>
<line x1="205.92" y1="254.3" x2="213.12" y2="254.3" stroke="#4a4a4a" stroke-width="1.5"/>
<line x1="205.92" y1="272.5" x2="213.12" y2="272.5" stroke="#4a4a4a" stroke-width="1.5"/>
<line x1="213.96" y1="257.3" x2="213.96" y2="268.7" stroke="#4a4a4a" stroke-width="1.3"/>
<line x1="210.36" y1="257.3" x2="217.56" y2="257.3" stroke="#4a4a4a" stroke-width="1.5"/>
<line x1="210.36" y1="268.7" x2="217.56" y2="268.7" stroke="#4a4a4a" stroke-width="1.5"/>
<path d="M46.5 190.5V362.7M46.5 317.5H219.5V362.7M133 317.5V362.7" fill="none" stroke="#262626" stroke-width="1.2"/>
<text x="35.3" y="321.8" text-anchor="end" font-size="12.6">0</text>
<text x="35.3" y="300.63" text-anchor="end" font-size="12.6">20</text>
<text x="35.3" y="279.47" text-anchor="end" font-size="12.6">40</text>
<text x="35.3" y="258.3" text-anchor="end" font-size="12.6">60</text>
<text x="35.3" y="237.13" text-anchor="end" font-size="12.6">80</text>
<text x="35.3" y="215.97" text-anchor="end" font-size="12.6">100</text>
<text x="35.3" y="194.8" text-anchor="end" font-size="12.6">120</text>
<path d="M46.5 317.5h3.6M46.5 296.33h3.6M46.5 275.17h3.6M46.5 254h3.6M46.5 232.83h3.6M46.5 211.67h3.6M46.5 190.5h3.6" stroke="#262626" stroke-width="1.2"/>
<text x="60.92" y="337" text-anchor="middle" font-size="13">leaf</text>
<text x="89.75" y="337" text-anchor="middle" font-size="13">stem</text>
<text x="118.58" y="337" text-anchor="middle" font-size="13">root</text>
<text x="147.42" y="337" text-anchor="middle" font-size="13">leaf</text>
<text x="176.25" y="337" text-anchor="middle" font-size="13">stem</text>
<text x="205.08" y="337" text-anchor="middle" font-size="13">root</text>
<text x="89.75" y="359.7" text-anchor="middle" font-size="13">15d</text>
<text x="176.25" y="359.7" text-anchor="middle" font-size="13">30d</text>
<text x="7.4" y="353.6" font-size="14" font-weight="bold">D</text>
<text transform="translate(15.3,197.6) rotate(-90)" text-anchor="end" font-size="12.68">POD activity(U•g<tspan font-size="8.5" dy="-2.6">-1</tspan><tspan dy="2.6">•min</tspan><tspan font-size="8.5" dy="-2.6">-1</tspan><tspan dy="2.6">)</tspan></text>
<text class="l" x="50.5" y="249.9" text-anchor="middle" font-size="10.6">c</text>
<text class="l" x="54.2" y="228.6" text-anchor="middle" font-size="10.6">b</text>
<text class="l" x="61.5" y="214.3" text-anchor="middle" font-size="10.6">a</text>
<text class="l" x="79.1" y="239.9" text-anchor="middle" font-size="10.6">c</text>
<text class="l" x="83.5" y="225.4" text-anchor="middle" font-size="10.6">b</text>
<text class="l" x="90" y="217" text-anchor="middle" font-size="10.6">a</text>
<text class="l" x="106.3" y="284.2" text-anchor="middle" font-size="10.6">c</text>
<text class="l" x="110.7" y="265.7" text-anchor="middle" font-size="10.6">b</text>
<text class="l" x="117.7" y="257.1" text-anchor="middle" font-size="10.6">a</text>
<text class="l" x="137.1" y="257.9" text-anchor="middle" font-size="10.6">d</text>
<text class="l" x="139.9" y="230.5" text-anchor="middle" font-size="10.6">b</text>
<text class="l" x="147.4" y="212.9" text-anchor="middle" font-size="10.6">a</text>
<text class="l" x="155.4" y="233.5" text-anchor="middle" font-size="10.6">b</text>
<text class="l" x="157.6" y="241" text-anchor="middle" font-size="10.6" fill="#1010ff" stroke="none" font-weight="bold">c</text>
<text class="l" x="167.2" y="245.6" text-anchor="middle" font-size="10.6">d</text>
<text class="l" x="166.3" y="234.2" text-anchor="middle" font-size="10.6">b</text>
<text class="l" x="173.2" y="219.3" text-anchor="middle" font-size="10.6">a</text>
<text class="l" x="178.2" y="209.5" text-anchor="middle" font-size="10.6">a</text>
<text class="l" x="187.7" y="228.9" text-anchor="middle" font-size="10.6">c</text>
<text class="l" x="194.6" y="287.7" text-anchor="middle" font-size="10.6">c</text>
<text class="l" x="198.2" y="263.8" text-anchor="middle" font-size="10.6">b</text>
<text class="l" x="204.4" y="247.1" text-anchor="middle" font-size="10.6">a</text>
<text class="l" x="211.9" y="252.4" text-anchor="middle" font-size="10.6">b</text>
<text class="l" x="219.7" y="257.5" text-anchor="middle" font-size="10.6">b</text>
<rect x="229.8" y="183.4" width="225.1" height="180" fill="#fff" stroke="#dadada" stroke-width="1.5"/>
<rect x="273.9" y="273.2" width="4.54" height="44.3" fill="#4F81BD"/>
<rect x="278.44" y="269.8" width="4.54" height="47.7" fill="#C0504D"/>
<rect x="282.98" y="291.5" width="4.54" height="26" fill="#9BBB59"/>
<rect x="303.4" y="296.1" width="4.54" height="21.4" fill="#4F81BD"/>
<rect x="307.94" y="291" width="4.54" height="26.5" fill="#C0504D"/>
<rect x="312.48" y="289" width="4.54" height="28.5" fill="#9BBB59"/>
<rect x="332.9" y="274.8" width="4.54" height="42.7" fill="#4F81BD"/>
<rect x="337.44" y="268" width="4.54" height="49.5" fill="#C0504D"/>
<rect x="341.98" y="241.6" width="4.54" height="75.9" fill="#9BBB59"/>
<rect x="362.4" y="268.1" width="4.54" height="49.4" fill="#4F81BD"/>
<rect x="366.94" y="249.3" width="4.54" height="68.2" fill="#C0504D"/>
<rect x="371.48" y="277.2" width="4.54" height="40.3" fill="#9BBB59"/>
<rect x="376.02" y="225" width="4.54" height="92.5" fill="#8064A2"/>
<rect x="380.56" y="234.2" width="4.54" height="83.3" fill="#4BACC6"/>
<rect x="391.9" y="295.7" width="4.54" height="21.8" fill="#4F81BD"/>
<rect x="396.44" y="276.6" width="4.54" height="40.9" fill="#C0504D"/>
<rect x="400.98" y="277" width="4.54" height="40.5" fill="#9BBB59"/>
<rect x="405.52" y="246.5" width="4.54" height="71" fill="#8064A2"/>
<rect x="410.06" y="212.2" width="4.54" height="105.3" fill="#4BACC6"/>
<rect x="421.4" y="274.8" width="4.54" height="42.7" fill="#4F81BD"/>
<rect x="425.94" y="239.8" width="4.54" height="77.7" fill="#C0504D"/>
<rect x="430.48" y="265.5" width="4.54" height="52" fill="#9BBB59"/>
<rect x="435.02" y="218" width="4.54" height="99.5" fill="#8064A2"/>
<rect x="439.56" y="223.9" width="4.54" height="93.6" fill="#4BACC6"/>
<line x1="276.17" y1="270" x2="276.17" y2="276.4" stroke="#4a4a4a" stroke-width="1.3"/>
<line x1="272.57" y1="270" x2="279.77" y2="270" stroke="#4a4a4a" stroke-width="1.5"/>
<line x1="272.57" y1="276.4" x2="279.77" y2="276.4" stroke="#4a4a4a" stroke-width="1.5"/>
<line x1="280.71" y1="267" x2="280.71" y2="272.6" stroke="#4a4a4a" stroke-width="1.3"/>
<line x1="277.11" y1="267" x2="284.31" y2="267" stroke="#4a4a4a" stroke-width="1.5"/>
<line x1="277.11" y1="272.6" x2="284.31" y2="272.6" stroke="#4a4a4a" stroke-width="1.5"/>
<line x1="285.25" y1="286.7" x2="285.25" y2="296.3" stroke="#4a4a4a" stroke-width="1.3"/>
<line x1="281.65" y1="286.7" x2="288.85" y2="286.7" stroke="#4a4a4a" stroke-width="1.5"/>
<line x1="281.65" y1="296.3" x2="288.85" y2="296.3" stroke="#4a4a4a" stroke-width="1.5"/>
<line x1="305.67" y1="288.4" x2="305.67" y2="303.8" stroke="#4a4a4a" stroke-width="1.3"/>
<line x1="302.07" y1="288.4" x2="309.27" y2="288.4" stroke="#4a4a4a" stroke-width="1.5"/>
<line x1="302.07" y1="303.8" x2="309.27" y2="303.8" stroke="#4a4a4a" stroke-width="1.5"/>
<line x1="310.21" y1="290.1" x2="310.21" y2="291.9" stroke="#4a4a4a" stroke-width="1.3"/>
<line x1="306.61" y1="290.1" x2="313.81" y2="290.1" stroke="#4a4a4a" stroke-width="1.5"/>
<line x1="306.61" y1="291.9" x2="313.81" y2="291.9" stroke="#4a4a4a" stroke-width="1.5"/>
<line x1="314.75" y1="277" x2="314.75" y2="301" stroke="#4a4a4a" stroke-width="1.3"/>
<line x1="311.15" y1="277" x2="318.35" y2="277" stroke="#4a4a4a" stroke-width="1.5"/>
<line x1="311.15" y1="301" x2="318.35" y2="301" stroke="#4a4a4a" stroke-width="1.5"/>
<line x1="335.17" y1="273.5" x2="335.17" y2="276.1" stroke="#4a4a4a" stroke-width="1.3"/>
<line x1="331.57" y1="273.5" x2="338.77" y2="273.5" stroke="#4a4a4a" stroke-width="1.5"/>
<line x1="331.57" y1="276.1" x2="338.77" y2="276.1" stroke="#4a4a4a" stroke-width="1.5"/>
<line x1="339.71" y1="265.5" x2="339.71" y2="270.5" stroke="#4a4a4a" stroke-width="1.3"/>
<line x1="336.11" y1="265.5" x2="343.31" y2="265.5" stroke="#4a4a4a" stroke-width="1.5"/>
<line x1="336.11" y1="270.5" x2="343.31" y2="270.5" stroke="#4a4a4a" stroke-width="1.5"/>
<line x1="344.25" y1="232.6" x2="344.25" y2="250.6" stroke="#4a4a4a" stroke-width="1.3"/>
<line x1="340.65" y1="232.6" x2="347.85" y2="232.6" stroke="#4a4a4a" stroke-width="1.5"/>
<line x1="340.65" y1="250.6" x2="347.85" y2="250.6" stroke="#4a4a4a" stroke-width="1.5"/>
<line x1="364.67" y1="264.1" x2="364.67" y2="272.1" stroke="#4a4a4a" stroke-width="1.3"/>
<line x1="361.07" y1="264.1" x2="368.27" y2="264.1" stroke="#4a4a4a" stroke-width="1.5"/>
<line x1="361.07" y1="272.1" x2="368.27" y2="272.1" stroke="#4a4a4a" stroke-width="1.5"/>
<line x1="369.21" y1="247.5" x2="369.21" y2="251.1" stroke="#4a4a4a" stroke-width="1.3"/>
<line x1="365.61" y1="247.5" x2="372.81" y2="247.5" stroke="#4a4a4a" stroke-width="1.5"/>
<line x1="365.61" y1="251.1" x2="372.81" y2="251.1" stroke="#4a4a4a" stroke-width="1.5"/>
<line x1="373.75" y1="275.5" x2="373.75" y2="278.9" stroke="#4a4a4a" stroke-width="1.3"/>
<line x1="370.15" y1="275.5" x2="377.35" y2="275.5" stroke="#4a4a4a" stroke-width="1.5"/>
<line x1="370.15" y1="278.9" x2="377.35" y2="278.9" stroke="#4a4a4a" stroke-width="1.5"/>
<line x1="378.29" y1="215.5" x2="378.29" y2="234.5" stroke="#4a4a4a" stroke-width="1.3"/>
<line x1="374.69" y1="215.5" x2="381.89" y2="215.5" stroke="#4a4a4a" stroke-width="1.5"/>
<line x1="374.69" y1="234.5" x2="381.89" y2="234.5" stroke="#4a4a4a" stroke-width="1.5"/>
<line x1="382.83" y1="219.6" x2="382.83" y2="248.8" stroke="#4a4a4a" stroke-width="1.3"/>
<line x1="379.23" y1="219.6" x2="386.43" y2="219.6" stroke="#4a4a4a" stroke-width="1.5"/>
<line x1="379.23" y1="248.8" x2="386.43" y2="248.8" stroke="#4a4a4a" stroke-width="1.5"/>
<line x1="394.17" y1="293.1" x2="394.17" y2="298.3" stroke="#4a4a4a" stroke-width="1.3"/>
<line x1="390.57" y1="293.1" x2="397.77" y2="293.1" stroke="#4a4a4a" stroke-width="1.5"/>
<line x1="390.57" y1="298.3" x2="397.77" y2="298.3" stroke="#4a4a4a" stroke-width="1.5"/>
<line x1="398.71" y1="274.8" x2="398.71" y2="278.4" stroke="#4a4a4a" stroke-width="1.3"/>
<line x1="395.11" y1="274.8" x2="402.31" y2="274.8" stroke="#4a4a4a" stroke-width="1.5"/>
<line x1="395.11" y1="278.4" x2="402.31" y2="278.4" stroke="#4a4a4a" stroke-width="1.5"/>
<line x1="403.25" y1="275.5" x2="403.25" y2="278.5" stroke="#4a4a4a" stroke-width="1.3"/>
<line x1="399.65" y1="275.5" x2="406.85" y2="275.5" stroke="#4a4a4a" stroke-width="1.5"/>
<line x1="399.65" y1="278.5" x2="406.85" y2="278.5" stroke="#4a4a4a" stroke-width="1.5"/>
<line x1="407.79" y1="232.2" x2="407.79" y2="260.8" stroke="#4a4a4a" stroke-width="1.3"/>
<line x1="404.19" y1="232.2" x2="411.39" y2="232.2" stroke="#4a4a4a" stroke-width="1.5"/>
<line x1="404.19" y1="260.8" x2="411.39" y2="260.8" stroke="#4a4a4a" stroke-width="1.5"/>
<line x1="412.33" y1="199.1" x2="412.33" y2="225.3" stroke="#4a4a4a" stroke-width="1.3"/>
<line x1="408.73" y1="199.1" x2="415.93" y2="199.1" stroke="#4a4a4a" stroke-width="1.5"/>
<line x1="408.73" y1="225.3" x2="415.93" y2="225.3" stroke="#4a4a4a" stroke-width="1.5"/>
<line x1="420.07" y1="274.3" x2="427.27" y2="274.3" stroke="#4a4a4a" stroke-width="1.5"/>
<line x1="420.07" y1="275.3" x2="427.27" y2="275.3" stroke="#4a4a4a" stroke-width="1.5"/>
<line x1="428.21" y1="236.7" x2="428.21" y2="242.9" stroke="#4a4a4a" stroke-width="1.3"/>
<line x1="424.61" y1="236.7" x2="431.81" y2="236.7" stroke="#4a4a4a" stroke-width="1.5"/>
<line x1="424.61" y1="242.9" x2="431.81" y2="242.9" stroke="#4a4a4a" stroke-width="1.5"/>
<line x1="432.75" y1="263.4" x2="432.75" y2="267.6" stroke="#4a4a4a" stroke-width="1.3"/>
<line x1="429.15" y1="263.4" x2="436.35" y2="263.4" stroke="#4a4a4a" stroke-width="1.5"/>
<line x1="429.15" y1="267.6" x2="436.35" y2="267.6" stroke="#4a4a4a" stroke-width="1.5"/>
<line x1="437.29" y1="212.9" x2="437.29" y2="223.1" stroke="#4a4a4a" stroke-width="1.3"/>
<line x1="433.69" y1="212.9" x2="440.89" y2="212.9" stroke="#4a4a4a" stroke-width="1.5"/>
<line x1="433.69" y1="223.1" x2="440.89" y2="223.1" stroke="#4a4a4a" stroke-width="1.5"/>
<line x1="441.83" y1="206.5" x2="441.83" y2="241.3" stroke="#4a4a4a" stroke-width="1.3"/>
<line x1="438.23" y1="206.5" x2="445.43" y2="206.5" stroke="#4a4a4a" stroke-width="1.5"/>
<line x1="438.23" y1="241.3" x2="445.43" y2="241.3" stroke="#4a4a4a" stroke-width="1.5"/>
<path d="M270.5 190.4V362.8M270.5 317.5H447.5V362.8M359 317.5V362.8" fill="none" stroke="#262626" stroke-width="1.2"/>
<text x="259.3" y="321.8" text-anchor="end" font-size="12.6">0</text>
<text x="259.3" y="290.03" text-anchor="end" font-size="12.6">2</text>
<text x="259.3" y="258.25" text-anchor="end" font-size="12.6">4</text>
<text x="259.3" y="226.48" text-anchor="end" font-size="12.6">6</text>
<text x="259.3" y="194.7" text-anchor="end" font-size="12.6">8</text>
<path d="M270.5 317.5h3.6M270.5 285.73h3.6M270.5 253.95h3.6M270.5 222.18h3.6M270.5 190.4h3.6" stroke="#262626" stroke-width="1.2"/>
<text x="285.25" y="337" text-anchor="middle" font-size="13">leaf</text>
<text x="314.75" y="337" text-anchor="middle" font-size="13">stem</text>
<text x="344.25" y="337" text-anchor="middle" font-size="13">root</text>
<text x="373.75" y="337" text-anchor="middle" font-size="13">leaf</text>
<text x="403.25" y="337" text-anchor="middle" font-size="13">stem</text>
<text x="432.75" y="337" text-anchor="middle" font-size="13">root</text>
<text x="314.75" y="359.7" text-anchor="middle" font-size="13">15d</text>
<text x="403.25" y="359.7" text-anchor="middle" font-size="13">30d</text>
<text x="237" y="351.5" font-size="14" font-weight="bold">E</text>
<text transform="translate(244.3,197.6) rotate(-90)" text-anchor="end" font-size="12.94">CAT activity(U•g<tspan font-size="8.5" dy="-2.6">-1</tspan><tspan dy="2.6">•min</tspan><tspan font-size="8.5" dy="-2.6">-1</tspan><tspan dy="2.6">)</tspan></text>
<text class="l" x="274.7" y="263.1" text-anchor="middle" font-size="10.6">a</text>
<text class="l" x="280.6" y="260.1" text-anchor="middle" font-size="10.6">a</text>
<text class="l" x="286.4" y="284.1" text-anchor="middle" font-size="10.6">b</text>
<text class="l" x="304" y="287.1" text-anchor="middle" font-size="10.6">b</text>
<text class="l" x="309.8" y="281.2" text-anchor="middle" font-size="10.6">a</text>
<text class="l" x="314.5" y="273.3" text-anchor="middle" font-size="10.6">a</text>
<text class="l" x="331.5" y="265.4" text-anchor="middle" font-size="10.6">c</text>
<text class="l" x="339" y="258.7" text-anchor="middle" font-size="10.6">b</text>
<text class="l" x="343.1" y="226.8" text-anchor="middle" font-size="10.6">a</text>
<text class="l" x="360" y="261.4" text-anchor="middle" font-size="10.6">bc</text>
<text class="l" x="366.4" y="245.6" text-anchor="middle" font-size="10.6">b</text>
<text class="l" x="373.7" y="267.2" text-anchor="middle" font-size="10.6">c</text>
<text class="l" x="375.5" y="211.1" text-anchor="middle" font-size="10.6">a</text>
<text class="l" x="387.4" y="212.9" text-anchor="middle" font-size="10.6" font-weight="bold">a</text>
<text class="l" x="391" y="291.7" text-anchor="middle" font-size="10.6">d</text>
<text class="l" x="396" y="268.1" text-anchor="middle" font-size="10.6">c</text>
<text class="l" x="402.4" y="266.5" text-anchor="middle" font-size="10.6">c</text>
<text class="l" x="402.9" y="231.9" text-anchor="middle" font-size="10.6">b</text>
<text class="l" x="411.6" y="202" text-anchor="middle" font-size="10.6" font-weight="bold">a</text>
<text class="l" x="422.3" y="268.8" text-anchor="middle" font-size="10.6">c</text>
<text class="l" x="427.5" y="235.8" text-anchor="middle" font-size="10.6">b</text>
<text class="l" x="433" y="252.8" text-anchor="middle" font-size="10.6">c</text>
<text class="l" x="434.4" y="208.8" text-anchor="middle" font-size="10.6">a</text>
<text class="l" x="442.8" y="207.9" text-anchor="middle" font-size="10.6" font-weight="bold">a</text>
<rect x="458.9" y="183.4" width="224.8" height="180" fill="#fff" stroke="#dadada" stroke-width="1.5"/>
<rect x="509.49" y="278.2" width="4.39" height="39.9" fill="#4F81BD"/>
<rect x="513.89" y="257.6" width="4.39" height="60.5" fill="#C0504D"/>
<rect x="518.28" y="251.8" width="4.39" height="66.3" fill="#9BBB59"/>
<rect x="538.04" y="278.2" width="4.39" height="39.9" fill="#4F81BD"/>
<rect x="542.44" y="261.3" width="4.39" height="56.8" fill="#C0504D"/>
<rect x="546.83" y="249.6" width="4.39" height="68.5" fill="#9BBB59"/>
<rect x="566.59" y="274.2" width="4.39" height="43.9" fill="#4F81BD"/>
<rect x="570.99" y="261.9" width="4.39" height="56.2" fill="#C0504D"/>
<rect x="575.38" y="258.7" width="4.39" height="59.4" fill="#9BBB59"/>
<rect x="595.14" y="274.7" width="4.39" height="43.4" fill="#4F81BD"/>
<rect x="599.54" y="240.5" width="4.39" height="77.6" fill="#C0504D"/>
<rect x="603.93" y="222.1" width="4.39" height="96" fill="#9BBB59"/>
<rect x="608.32" y="202" width="4.39" height="116.1" fill="#8064A2"/>
<rect x="612.71" y="202.5" width="4.39" height="115.6" fill="#4BACC6"/>
<rect x="623.69" y="276.7" width="4.39" height="41.4" fill="#4F81BD"/>
<rect x="628.09" y="259.2" width="4.39" height="58.9" fill="#C0504D"/>
<rect x="632.48" y="235.6" width="4.39" height="82.5" fill="#9BBB59"/>
<rect x="636.87" y="219.6" width="4.39" height="98.5" fill="#8064A2"/>
<rect x="641.26" y="218" width="4.39" height="100.1" fill="#4BACC6"/>
<rect x="652.24" y="277.5" width="4.39" height="40.6" fill="#4F81BD"/>
<rect x="656.64" y="268.5" width="4.39" height="49.6" fill="#C0504D"/>
<rect x="661.03" y="217.9" width="4.39" height="100.2" fill="#9BBB59"/>
<rect x="665.42" y="212.5" width="4.39" height="105.6" fill="#8064A2"/>
<rect x="669.81" y="210.3" width="4.39" height="107.8" fill="#4BACC6"/>
<line x1="511.69" y1="275.5" x2="511.69" y2="280.9" stroke="#4a4a4a" stroke-width="1.3"/>
<line x1="508.09" y1="275.5" x2="515.29" y2="275.5" stroke="#4a4a4a" stroke-width="1.5"/>
<line x1="508.09" y1="280.9" x2="515.29" y2="280.9" stroke="#4a4a4a" stroke-width="1.5"/>
<line x1="516.08" y1="256.5" x2="516.08" y2="258.7" stroke="#4a4a4a" stroke-width="1.3"/>
<line x1="512.48" y1="256.5" x2="519.68" y2="256.5" stroke="#4a4a4a" stroke-width="1.5"/>
<line x1="512.48" y1="258.7" x2="519.68" y2="258.7" stroke="#4a4a4a" stroke-width="1.5"/>
<line x1="516.88" y1="251.3" x2="524.08" y2="251.3" stroke="#4a4a4a" stroke-width="1.5"/>
<line x1="516.88" y1="252.3" x2="524.08" y2="252.3" stroke="#4a4a4a" stroke-width="1.5"/>
<line x1="540.24" y1="276.6" x2="540.24" y2="279.8" stroke="#4a4a4a" stroke-width="1.3"/>
<line x1="536.64" y1="276.6" x2="543.84" y2="276.6" stroke="#4a4a4a" stroke-width="1.5"/>
<line x1="536.64" y1="279.8" x2="543.84" y2="279.8" stroke="#4a4a4a" stroke-width="1.5"/>
<line x1="541.03" y1="260.7" x2="548.23" y2="260.7" stroke="#4a4a4a" stroke-width="1.5"/>
<line x1="541.03" y1="261.9" x2="548.23" y2="261.9" stroke="#4a4a4a" stroke-width="1.5"/>
<line x1="549.02" y1="248.6" x2="549.02" y2="250.6" stroke="#4a4a4a" stroke-width="1.3"/>
<line x1="545.42" y1="248.6" x2="552.62" y2="248.6" stroke="#4a4a4a" stroke-width="1.5"/>
<line x1="545.42" y1="250.6" x2="552.62" y2="250.6" stroke="#4a4a4a" stroke-width="1.5"/>
<line x1="565.19" y1="273.7" x2="572.39" y2="273.7" stroke="#4a4a4a" stroke-width="1.5"/>
<line x1="565.19" y1="274.7" x2="572.39" y2="274.7" stroke="#4a4a4a" stroke-width="1.5"/>
<line x1="573.18" y1="260.3" x2="573.18" y2="263.5" stroke="#4a4a4a" stroke-width="1.3"/>
<line x1="569.58" y1="260.3" x2="576.78" y2="260.3" stroke="#4a4a4a" stroke-width="1.5"/>
<line x1="569.58" y1="263.5" x2="576.78" y2="263.5" stroke="#4a4a4a" stroke-width="1.5"/>
<line x1="577.57" y1="256.6" x2="577.57" y2="260.8" stroke="#4a4a4a" stroke-width="1.3"/>
<line x1="573.97" y1="256.6" x2="581.17" y2="256.6" stroke="#4a4a4a" stroke-width="1.5"/>
<line x1="573.97" y1="260.8" x2="581.17" y2="260.8" stroke="#4a4a4a" stroke-width="1.5"/>
<line x1="597.34" y1="273.2" x2="597.34" y2="276.2" stroke="#4a4a4a" stroke-width="1.3"/>
<line x1="593.74" y1="273.2" x2="600.94" y2="273.2" stroke="#4a4a4a" stroke-width="1.5"/>
<line x1="593.74" y1="276.2" x2="600.94" y2="276.2" stroke="#4a4a4a" stroke-width="1.5"/>
<line x1="601.73" y1="239" x2="601.73" y2="242" stroke="#4a4a4a" stroke-width="1.3"/>
<line x1="598.13" y1="239" x2="605.33" y2="239" stroke="#4a4a4a" stroke-width="1.5"/>
<line x1="598.13" y1="242" x2="605.33" y2="242" stroke="#4a4a4a" stroke-width="1.5"/>
<line x1="606.12" y1="220.1" x2="606.12" y2="224.1" stroke="#4a4a4a" stroke-width="1.3"/>
<line x1="602.52" y1="220.1" x2="609.72" y2="220.1" stroke="#4a4a4a" stroke-width="1.5"/>
<line x1="602.52" y1="224.1" x2="609.72" y2="224.1" stroke="#4a4a4a" stroke-width="1.5"/>
<line x1="610.52" y1="200.3" x2="610.52" y2="203.7" stroke="#4a4a4a" stroke-width="1.3"/>
<line x1="606.92" y1="200.3" x2="614.12" y2="200.3" stroke="#4a4a4a" stroke-width="1.5"/>
<line x1="606.92" y1="203.7" x2="614.12" y2="203.7" stroke="#4a4a4a" stroke-width="1.5"/>
<line x1="614.91" y1="200.3" x2="614.91" y2="204.7" stroke="#4a4a4a" stroke-width="1.3"/>
<line x1="611.31" y1="200.3" x2="618.51" y2="200.3" stroke="#4a4a4a" stroke-width="1.5"/>
<line x1="611.31" y1="204.7" x2="618.51" y2="204.7" stroke="#4a4a4a" stroke-width="1.5"/>
<line x1="622.29" y1="276.2" x2="629.49" y2="276.2" stroke="#4a4a4a" stroke-width="1.5"/>
<line x1="622.29" y1="277.2" x2="629.49" y2="277.2" stroke="#4a4a4a" stroke-width="1.5"/>
<line x1="630.28" y1="255" x2="630.28" y2="263.4" stroke="#4a4a4a" stroke-width="1.3"/>
<line x1="626.68" y1="255" x2="633.88" y2="255" stroke="#4a4a4a" stroke-width="1.5"/>
<line x1="626.68" y1="263.4" x2="633.88" y2="263.4" stroke="#4a4a4a" stroke-width="1.5"/>
<line x1="634.67" y1="234.5" x2="634.67" y2="236.7" stroke="#4a4a4a" stroke-width="1.3"/>
<line x1="631.07" y1="234.5" x2="638.27" y2="234.5" stroke="#4a4a4a" stroke-width="1.5"/>
<line x1="631.07" y1="236.7" x2="638.27" y2="236.7" stroke="#4a4a4a" stroke-width="1.5"/>
<line x1="635.47" y1="219" x2="642.67" y2="219" stroke="#4a4a4a" stroke-width="1.5"/>
<line x1="635.47" y1="220.2" x2="642.67" y2="220.2" stroke="#4a4a4a" stroke-width="1.5"/>
<line x1="639.86" y1="217.4" x2="647.06" y2="217.4" stroke="#4a4a4a" stroke-width="1.5"/>
<line x1="639.86" y1="218.6" x2="647.06" y2="218.6" stroke="#4a4a4a" stroke-width="1.5"/>
<line x1="654.44" y1="275.5" x2="654.44" y2="279.5" stroke="#4a4a4a" stroke-width="1.3"/>
<line x1="650.84" y1="275.5" x2="658.04" y2="275.5" stroke="#4a4a4a" stroke-width="1.5"/>
<line x1="650.84" y1="279.5" x2="658.04" y2="279.5" stroke="#4a4a4a" stroke-width="1.5"/>
<line x1="658.83" y1="267.1" x2="658.83" y2="269.9" stroke="#4a4a4a" stroke-width="1.3"/>
<line x1="655.23" y1="267.1" x2="662.43" y2="267.1" stroke="#4a4a4a" stroke-width="1.5"/>
<line x1="655.23" y1="269.9" x2="662.43" y2="269.9" stroke="#4a4a4a" stroke-width="1.5"/>
<line x1="663.22" y1="216.2" x2="663.22" y2="219.6" stroke="#4a4a4a" stroke-width="1.3"/>
<line x1="659.62" y1="216.2" x2="666.82" y2="216.2" stroke="#4a4a4a" stroke-width="1.5"/>
<line x1="659.62" y1="219.6" x2="666.82" y2="219.6" stroke="#4a4a4a" stroke-width="1.5"/>
<line x1="664.02" y1="211.7" x2="671.22" y2="211.7" stroke="#4a4a4a" stroke-width="1.5"/>
<line x1="664.02" y1="213.3" x2="671.22" y2="213.3" stroke="#4a4a4a" stroke-width="1.5"/>
<line x1="672.01" y1="207.8" x2="672.01" y2="212.8" stroke="#4a4a4a" stroke-width="1.3"/>
<line x1="668.41" y1="207.8" x2="675.61" y2="207.8" stroke="#4a4a4a" stroke-width="1.5"/>
<line x1="668.41" y1="212.8" x2="675.61" y2="212.8" stroke="#4a4a4a" stroke-width="1.5"/>
<path d="M506.2 190.5V362.8M506.2 318.1H677.5V362.8M591.85 318.1V362.8" fill="none" stroke="#262626" stroke-width="1.2"/>
<text x="495" y="322.4" text-anchor="end" font-size="12.6">0</text>
<text x="495" y="301.13" text-anchor="end" font-size="12.6">20</text>
<text x="495" y="279.87" text-anchor="end" font-size="12.6">40</text>
<text x="495" y="258.6" text-anchor="end" font-size="12.6">60</text>
<text x="495" y="237.33" text-anchor="end" font-size="12.6">80</text>
<text x="495" y="216.07" text-anchor="end" font-size="12.6">100</text>
<text x="495" y="194.8" text-anchor="end" font-size="12.6">120</text>
<path d="M506.2 318.1h3.6M506.2 296.83h3.6M506.2 275.57h3.6M506.2 254.3h3.6M506.2 233.03h3.6M506.2 211.77h3.6M506.2 190.5h3.6" stroke="#262626" stroke-width="1.2"/>
<text x="520.48" y="337.5" text-anchor="middle" font-size="13">leaf</text>
<text x="549.02" y="337.5" text-anchor="middle" font-size="13">stem</text>
<text x="577.57" y="337.5" text-anchor="middle" font-size="13">root</text>
<text x="606.12" y="337.5" text-anchor="middle" font-size="13">leaf</text>
<text x="634.67" y="337.5" text-anchor="middle" font-size="13">stem</text>
<text x="663.23" y="337.5" text-anchor="middle" font-size="13">root</text>
<text x="549.02" y="360.5" text-anchor="middle" font-size="13">15d</text>
<text x="634.68" y="360.5" text-anchor="middle" font-size="13">30d</text>
<text x="468.9" y="351" font-size="14" font-weight="bold">F</text>
<text transform="translate(474.2,197.6) rotate(-90)" text-anchor="end" font-size="12.84">APX activity (U•g<tspan font-size="8.5" dy="-2.6">-1</tspan><tspan dy="2.6">)</tspan></text>
<text class="l" x="509" y="271.8" text-anchor="middle" font-size="10.6">b</text>
<text class="l" x="514.3" y="254.2" text-anchor="middle" font-size="10.6">a</text>
<text class="l" x="520.1" y="246.9" text-anchor="middle" font-size="10.6">a</text>
<text class="l" x="540" y="272.3" text-anchor="middle" font-size="10.6">b</text>
<text class="l" x="543.2" y="258.5" text-anchor="middle" font-size="10.6">b</text>
<text class="l" x="548.2" y="239" text-anchor="middle" font-size="10.6">a</text>
<text class="l" x="567.5" y="270.6" text-anchor="middle" font-size="10.6">c</text>
<text class="l" x="571.1" y="256.4" text-anchor="middle" font-size="10.6">a</text>
<text class="l" x="577.4" y="246.3" text-anchor="middle" font-size="10.6">a</text>
<text class="l" x="596" y="268.9" text-anchor="middle" font-size="10.6">d</text>
<text class="l" x="599.9" y="235.3" text-anchor="middle" font-size="10.6">c</text>
<text class="l" x="605.8" y="217.5" text-anchor="middle" font-size="10.6">b</text>
<text class="l" x="606.7" y="198.8" text-anchor="middle" font-size="10.6">a</text>
<text class="l" x="615.8" y="196.5" text-anchor="middle" font-size="10.6" font-weight="bold">a</text>
<text class="l" x="626.3" y="267.7" text-anchor="middle" font-size="10.6">d</text>
<text class="l" x="628.6" y="250.6" text-anchor="middle" font-size="10.6">c</text>
<text class="l" x="634.7" y="232.4" text-anchor="middle" font-size="10.6">b</text>
<text class="l" x="634.7" y="213.4" text-anchor="middle" font-size="10.6">a</text>
<text class="l" x="642.3" y="210.2" text-anchor="middle" font-size="10.6" font-weight="bold">a</text>
<text class="l" x="654.1" y="271.1" text-anchor="middle" font-size="10.6">c</text>
<text class="l" x="659.2" y="263.2" text-anchor="middle" font-size="10.6">b</text>
<text class="l" x="661" y="208.4" text-anchor="middle" font-size="10.6">a</text>
<text class="l" x="668.3" y="201.5" text-anchor="middle" font-size="10.6">a</text>
<text class="l" x="675.8" y="199.2" text-anchor="middle" font-size="10.6" font-weight="bold">a</text>
<rect x="0.8" y="366.7" width="225.3" height="202.7" fill="#fff" stroke="#dadada" stroke-width="1.5"/>
<rect x="46.72" y="437.3" width="4.43" height="55" fill="#4F81BD"/>
<rect x="51.15" y="440.2" width="4.43" height="52.1" fill="#C0504D"/>
<rect x="55.58" y="455.6" width="4.43" height="36.7" fill="#9BBB59"/>
<rect x="75.52" y="450.6" width="4.43" height="41.7" fill="#4F81BD"/>
<rect x="79.95" y="457.3" width="4.43" height="35" fill="#C0504D"/>
<rect x="84.38" y="470" width="4.43" height="22.3" fill="#9BBB59"/>
<rect x="104.32" y="437.9" width="4.43" height="54.4" fill="#4F81BD"/>
<rect x="108.75" y="452.5" width="4.43" height="39.8" fill="#C0504D"/>
<rect x="113.18" y="463.2" width="4.43" height="29.1" fill="#9BBB59"/>
<rect x="133.12" y="414.8" width="4.43" height="77.5" fill="#4F81BD"/>
<rect x="137.55" y="427.1" width="4.43" height="65.2" fill="#C0504D"/>
<rect x="141.98" y="447.3" width="4.43" height="45" fill="#9BBB59"/>
<rect x="146.42" y="412.1" width="4.43" height="80.2" fill="#8064A2"/>
<rect x="150.85" y="412.6" width="4.43" height="79.7" fill="#4BACC6"/>
<rect x="161.92" y="439.9" width="4.43" height="52.4" fill="#4F81BD"/>
<rect x="166.35" y="441.6" width="4.43" height="50.7" fill="#C0504D"/>
<rect x="170.78" y="469.8" width="4.43" height="22.5" fill="#9BBB59"/>
<rect x="175.22" y="426.8" width="4.43" height="65.5" fill="#8064A2"/>
<rect x="179.65" y="428.4" width="4.43" height="63.9" fill="#4BACC6"/>
<rect x="190.72" y="426.6" width="4.43" height="65.7" fill="#4F81BD"/>
<rect x="195.15" y="447.6" width="4.43" height="44.7" fill="#C0504D"/>
<rect x="199.58" y="459.7" width="4.43" height="32.6" fill="#9BBB59"/>
<rect x="204.02" y="425.6" width="4.43" height="66.7" fill="#8064A2"/>
<rect x="208.45" y="426.1" width="4.43" height="66.2" fill="#4BACC6"/>
<line x1="48.94" y1="435.4" x2="48.94" y2="439.2" stroke="#4a4a4a" stroke-width="1.3"/>
<line x1="45.34" y1="435.4" x2="52.54" y2="435.4" stroke="#4a4a4a" stroke-width="1.5"/>
<line x1="45.34" y1="439.2" x2="52.54" y2="439.2" stroke="#4a4a4a" stroke-width="1.5"/>
<line x1="53.37" y1="436.3" x2="53.37" y2="444.1" stroke="#4a4a4a" stroke-width="1.3"/>
<line x1="49.77" y1="436.3" x2="56.97" y2="436.3" stroke="#4a4a4a" stroke-width="1.5"/>
<line x1="49.77" y1="444.1" x2="56.97" y2="444.1" stroke="#4a4a4a" stroke-width="1.5"/>
<line x1="57.8" y1="454.2" x2="57.8" y2="457" stroke="#4a4a4a" stroke-width="1.3"/>
<line x1="54.2" y1="454.2" x2="61.4" y2="454.2" stroke="#4a4a4a" stroke-width="1.5"/>
<line x1="54.2" y1="457" x2="61.4" y2="457" stroke="#4a4a4a" stroke-width="1.5"/>
<line x1="77.74" y1="440.35" x2="77.74" y2="460.85" stroke="#4a4a4a" stroke-width="1.3"/>
<line x1="74.14" y1="440.35" x2="81.34" y2="440.35" stroke="#4a4a4a" stroke-width="1.5"/>
<line x1="74.14" y1="460.85" x2="81.34" y2="460.85" stroke="#4a4a4a" stroke-width="1.5"/>
<line x1="82.17" y1="454.2" x2="82.17" y2="460.4" stroke="#4a4a4a" stroke-width="1.3"/>
<line x1="78.57" y1="454.2" x2="85.77" y2="454.2" stroke="#4a4a4a" stroke-width="1.5"/>
<line x1="78.57" y1="460.4" x2="85.77" y2="460.4" stroke="#4a4a4a" stroke-width="1.5"/>
<line x1="86.6" y1="466.7" x2="86.6" y2="473.3" stroke="#4a4a4a" stroke-width="1.3"/>
<line x1="83" y1="466.7" x2="90.2" y2="466.7" stroke="#4a4a4a" stroke-width="1.5"/>
<line x1="83" y1="473.3" x2="90.2" y2="473.3" stroke="#4a4a4a" stroke-width="1.5"/>
<line x1="106.54" y1="435" x2="106.54" y2="440.8" stroke="#4a4a4a" stroke-width="1.3"/>
<line x1="102.94" y1="435" x2="110.14" y2="435" stroke="#4a4a4a" stroke-width="1.5"/>
<line x1="102.94" y1="440.8" x2="110.14" y2="440.8" stroke="#4a4a4a" stroke-width="1.5"/>
<line x1="110.97" y1="450.8" x2="110.97" y2="454.2" stroke="#4a4a4a" stroke-width="1.3"/>
<line x1="107.37" y1="450.8" x2="114.57" y2="450.8" stroke="#4a4a4a" stroke-width="1.5"/>
<line x1="107.37" y1="454.2" x2="114.57" y2="454.2" stroke="#4a4a4a" stroke-width="1.5"/>
<line x1="115.4" y1="461.4" x2="115.4" y2="465" stroke="#4a4a4a" stroke-width="1.3"/>
<line x1="111.8" y1="461.4" x2="119" y2="461.4" stroke="#4a4a4a" stroke-width="1.5"/>
<line x1="111.8" y1="465" x2="119" y2="465" stroke="#4a4a4a" stroke-width="1.5"/>
<line x1="135.34" y1="407.2" x2="135.34" y2="422.4" stroke="#4a4a4a" stroke-width="1.3"/>
<line x1="131.74" y1="407.2" x2="138.94" y2="407.2" stroke="#4a4a4a" stroke-width="1.5"/>
<line x1="131.74" y1="422.4" x2="138.94" y2="422.4" stroke="#4a4a4a" stroke-width="1.5"/>
<line x1="139.77" y1="424.8" x2="139.77" y2="429.4" stroke="#4a4a4a" stroke-width="1.3"/>
<line x1="136.17" y1="424.8" x2="143.37" y2="424.8" stroke="#4a4a4a" stroke-width="1.5"/>
<line x1="136.17" y1="429.4" x2="143.37" y2="429.4" stroke="#4a4a4a" stroke-width="1.5"/>
<line x1="144.2" y1="445" x2="144.2" y2="449.6" stroke="#4a4a4a" stroke-width="1.3"/>
<line x1="140.6" y1="445" x2="147.8" y2="445" stroke="#4a4a4a" stroke-width="1.5"/>
<line x1="140.6" y1="449.6" x2="147.8" y2="449.6" stroke="#4a4a4a" stroke-width="1.5"/>
<line x1="148.63" y1="409.9" x2="148.63" y2="414.3" stroke="#4a4a4a" stroke-width="1.3"/>
<line x1="145.03" y1="409.9" x2="152.23" y2="409.9" stroke="#4a4a4a" stroke-width="1.5"/>
<line x1="145.03" y1="414.3" x2="152.23" y2="414.3" stroke="#4a4a4a" stroke-width="1.5"/>
<line x1="153.06" y1="411.3" x2="153.06" y2="413.9" stroke="#4a4a4a" stroke-width="1.3"/>
<line x1="149.46" y1="411.3" x2="156.66" y2="411.3" stroke="#4a4a4a" stroke-width="1.5"/>
<line x1="149.46" y1="413.9" x2="156.66" y2="413.9" stroke="#4a4a4a" stroke-width="1.5"/>
<line x1="164.14" y1="434.2" x2="164.14" y2="445.6" stroke="#4a4a4a" stroke-width="1.3"/>
<line x1="160.54" y1="434.2" x2="167.74" y2="434.2" stroke="#4a4a4a" stroke-width="1.5"/>
<line x1="160.54" y1="445.6" x2="167.74" y2="445.6" stroke="#4a4a4a" stroke-width="1.5"/>
<line x1="168.57" y1="437.6" x2="168.57" y2="445.6" stroke="#4a4a4a" stroke-width="1.3"/>
<line x1="164.97" y1="437.6" x2="172.17" y2="437.6" stroke="#4a4a4a" stroke-width="1.5"/>
<line x1="164.97" y1="445.6" x2="172.17" y2="445.6" stroke="#4a4a4a" stroke-width="1.5"/>
<line x1="169.4" y1="469.3" x2="176.6" y2="469.3" stroke="#4a4a4a" stroke-width="1.5"/>
<line x1="169.4" y1="470.3" x2="176.6" y2="470.3" stroke="#4a4a4a" stroke-width="1.5"/>
<line x1="177.43" y1="424.8" x2="177.43" y2="428.8" stroke="#4a4a4a" stroke-width="1.3"/>
<line x1="173.83" y1="424.8" x2="181.03" y2="424.8" stroke="#4a4a4a" stroke-width="1.5"/>
<line x1="173.83" y1="428.8" x2="181.03" y2="428.8" stroke="#4a4a4a" stroke-width="1.5"/>
<line x1="178.26" y1="427.9" x2="185.46" y2="427.9" stroke="#4a4a4a" stroke-width="1.5"/>
<line x1="178.26" y1="428.9" x2="185.46" y2="428.9" stroke="#4a4a4a" stroke-width="1.5"/>
<line x1="192.94" y1="422.8" x2="192.94" y2="430.4" stroke="#4a4a4a" stroke-width="1.3"/>
<line x1="189.34" y1="422.8" x2="196.54" y2="422.8" stroke="#4a4a4a" stroke-width="1.5"/>
<line x1="189.34" y1="430.4" x2="196.54" y2="430.4" stroke="#4a4a4a" stroke-width="1.5"/>
<line x1="193.77" y1="447.1" x2="200.97" y2="447.1" stroke="#4a4a4a" stroke-width="1.5"/>
<line x1="193.77" y1="448.1" x2="200.97" y2="448.1" stroke="#4a4a4a" stroke-width="1.5"/>
<line x1="201.8" y1="456.3" x2="201.8" y2="463.1" stroke="#4a4a4a" stroke-width="1.3"/>
<line x1="198.2" y1="456.3" x2="205.4" y2="456.3" stroke="#4a4a4a" stroke-width="1.5"/>
<line x1="198.2" y1="463.1" x2="205.4" y2="463.1" stroke="#4a4a4a" stroke-width="1.5"/>
<line x1="206.23" y1="424.4" x2="206.23" y2="426.8" stroke="#4a4a4a" stroke-width="1.3"/>
<line x1="202.63" y1="424.4" x2="209.83" y2="424.4" stroke="#4a4a4a" stroke-width="1.5"/>
<line x1="202.63" y1="426.8" x2="209.83" y2="426.8" stroke="#4a4a4a" stroke-width="1.5"/>
<line x1="207.06" y1="425.4" x2="214.26" y2="425.4" stroke="#4a4a4a" stroke-width="1.5"/>
<line x1="207.06" y1="426.8" x2="214.26" y2="426.8" stroke="#4a4a4a" stroke-width="1.5"/>
<path d="M43.4 374.5V537.6M43.4 492.3H216.2V537.6M129.8 492.3V537.6" fill="none" stroke="#262626" stroke-width="1.2"/>
<text x="32.2" y="496.6" text-anchor="end" font-size="12.6">0</text>
<text x="32.2" y="457.33" text-anchor="end" font-size="12.6">1</text>
<text x="32.2" y="418.07" text-anchor="end" font-size="12.6">2</text>
<text x="32.2" y="378.8" text-anchor="end" font-size="12.6">3</text>
<path d="M43.4 492.3h3.6M43.4 453.03h3.6M43.4 413.77h3.6M43.4 374.5h3.6" stroke="#262626" stroke-width="1.2"/>
<text x="57.8" y="511.9" text-anchor="middle" font-size="13">leaf</text>
<text x="86.6" y="511.9" text-anchor="middle" font-size="13">stem</text>
<text x="115.4" y="511.9" text-anchor="middle" font-size="13">root</text>
<text x="144.2" y="511.9" text-anchor="middle" font-size="13">leaf</text>
<text x="173" y="511.9" text-anchor="middle" font-size="13">stem</text>
<text x="201.8" y="511.9" text-anchor="middle" font-size="13">root</text>
<text x="86.6" y="534.9" text-anchor="middle" font-size="13">15d</text>
<text x="173" y="534.9" text-anchor="middle" font-size="13">30d</text>
<text x="6" y="534.9" font-size="14.5" font-weight="bold">G</text>
<text transform="translate(16.3,380.6) rotate(-90)" text-anchor="end" font-size="13">ASA content (μmol•g<tspan font-size="8.5" dy="-2.6">-1</tspan><tspan dy="2.6">)</tspan></text>
<text class="l" x="47.5" y="427.4" text-anchor="middle" font-size="10.6">a</text>
<text class="l" x="55.8" y="430.7" text-anchor="middle" font-size="10.6">a</text>
<text class="l" x="59.2" y="450.3" text-anchor="middle" font-size="10.6">b</text>
<text class="l" x="77.5" y="432.1" text-anchor="middle" font-size="10.6">a</text>
<text class="l" x="83.3" y="449.4" text-anchor="middle" font-size="10.6">b</text>
<text class="l" x="87" y="462.7" text-anchor="middle" font-size="10.6">c</text>
<text class="l" x="105.3" y="428.2" text-anchor="middle" font-size="10.6">a</text>
<text class="l" x="114.2" y="448.6" text-anchor="middle" font-size="10.6">b</text>
<text class="l" x="115.8" y="462.1" text-anchor="middle" font-size="10.6">c</text>
<text class="l" x="134.1" y="405.4" text-anchor="middle" font-size="10.6">b</text>
<text class="l" x="140.1" y="421.7" text-anchor="middle" font-size="10.6">c</text>
<text class="l" x="144.2" y="444.1" text-anchor="middle" font-size="10.6">b</text>
<text class="l" x="149.6" y="406.2" text-anchor="middle" font-size="10.6">a</text>
<text class="l" x="157.3" y="403.6" text-anchor="middle" font-size="10.6" font-weight="bold">a</text>
<text class="l" x="158.9" y="430.4" text-anchor="middle" font-size="10.6">b</text>
<text class="l" x="166.4" y="434.4" text-anchor="middle" font-size="10.6">b</text>
<text class="l" x="173" y="463.1" text-anchor="middle" font-size="10.6">c</text>
<text class="l" x="175" y="423.8" text-anchor="middle" font-size="10.6">a</text>
<text class="l" x="183.9" y="421.7" text-anchor="middle" font-size="10.6">a</text>
<text class="l" x="192.6" y="415.1" text-anchor="middle" font-size="10.6">a</text>
<text class="l" x="198" y="443.1" text-anchor="middle" font-size="10.6">b</text>
<text class="l" x="201.7" y="450" text-anchor="middle" font-size="10.6">c</text>
<text class="l" x="206.1" y="417.7" text-anchor="middle" font-size="10.6">a</text>
<text class="l" x="212.8" y="418.7" text-anchor="middle" font-size="10.6">a</text>
<rect x="11.8" y="548" width="5" height="4.6" fill="#4F81BD"/>
<text x="19.5" y="553" font-size="11">control</text>
<rect x="85.6" y="548" width="5" height="4.6" fill="#C0504D"/>
<text x="93.3" y="553" font-size="11">Cd-8</text>
<rect x="158.9" y="548" width="5" height="4.6" fill="#9BBB59"/>
<text x="166.6" y="553" font-size="11">Cd-40</text>
<rect x="11.8" y="559.8" width="5" height="4.6" fill="#8064A2"/>
<text x="19.5" y="564.8" font-size="11">Cd-40+SNP</text>
<rect x="85.6" y="559.8" width="5" height="4.6" fill="#4BACC6"/>
<text x="93.3" y="564.8" font-size="11">Cd-40+SA</text>
<rect x="229.8" y="366.7" width="225.1" height="202.7" fill="#fff" stroke="#dadada" stroke-width="1.5"/>
<rect x="273.86" y="428.4" width="4.48" height="65.8" fill="#4F81BD"/>
<rect x="278.34" y="439.8" width="4.48" height="54.4" fill="#C0504D"/>
<rect x="282.82" y="445.3" width="4.48" height="48.9" fill="#9BBB59"/>
<rect x="302.98" y="435.9" width="4.48" height="58.3" fill="#4F81BD"/>
<rect x="307.46" y="447.3" width="4.48" height="46.9" fill="#C0504D"/>
<rect x="311.94" y="450" width="4.48" height="44.2" fill="#9BBB59"/>
<rect x="332.09" y="469.1" width="4.48" height="25.1" fill="#4F81BD"/>
<rect x="336.57" y="463.3" width="4.48" height="30.9" fill="#C0504D"/>
<rect x="341.05" y="446" width="4.48" height="48.2" fill="#9BBB59"/>
<rect x="361.21" y="416.4" width="4.48" height="77.8" fill="#4F81BD"/>
<rect x="365.69" y="422.3" width="4.48" height="71.9" fill="#C0504D"/>
<rect x="370.17" y="424.9" width="4.48" height="69.3" fill="#9BBB59"/>
<rect x="374.65" y="401.7" width="4.48" height="92.5" fill="#8064A2"/>
<rect x="379.13" y="412.5" width="4.48" height="81.7" fill="#4BACC6"/>
<rect x="390.33" y="409" width="4.48" height="85.2" fill="#4F81BD"/>
<rect x="394.81" y="445.4" width="4.48" height="48.8" fill="#C0504D"/>
<rect x="399.29" y="451.5" width="4.48" height="42.7" fill="#9BBB59"/>
<rect x="403.76" y="393" width="4.48" height="101.2" fill="#8064A2"/>
<rect x="408.24" y="392.6" width="4.48" height="101.6" fill="#4BACC6"/>
<rect x="419.44" y="438.5" width="4.48" height="55.7" fill="#4F81BD"/>
<rect x="423.92" y="457" width="4.48" height="37.2" fill="#C0504D"/>
<rect x="428.4" y="467.5" width="4.48" height="26.7" fill="#9BBB59"/>
<rect x="432.88" y="416.2" width="4.48" height="78" fill="#8064A2"/>
<rect x="437.36" y="417.5" width="4.48" height="76.7" fill="#4BACC6"/>
<line x1="276.1" y1="426.9" x2="276.1" y2="429.9" stroke="#4a4a4a" stroke-width="1.3"/>
<line x1="272.5" y1="426.9" x2="279.7" y2="426.9" stroke="#4a4a4a" stroke-width="1.5"/>
<line x1="272.5" y1="429.9" x2="279.7" y2="429.9" stroke="#4a4a4a" stroke-width="1.5"/>
<line x1="280.58" y1="436.7" x2="280.58" y2="442.9" stroke="#4a4a4a" stroke-width="1.3"/>
<line x1="276.98" y1="436.7" x2="284.18" y2="436.7" stroke="#4a4a4a" stroke-width="1.5"/>
<line x1="276.98" y1="442.9" x2="284.18" y2="442.9" stroke="#4a4a4a" stroke-width="1.5"/>
<line x1="285.06" y1="439.5" x2="285.06" y2="451.1" stroke="#4a4a4a" stroke-width="1.3"/>
<line x1="281.46" y1="439.5" x2="288.66" y2="439.5" stroke="#4a4a4a" stroke-width="1.5"/>
<line x1="281.46" y1="451.1" x2="288.66" y2="451.1" stroke="#4a4a4a" stroke-width="1.5"/>
<line x1="305.22" y1="432.7" x2="305.22" y2="439.1" stroke="#4a4a4a" stroke-width="1.3"/>
<line x1="301.62" y1="432.7" x2="308.82" y2="432.7" stroke="#4a4a4a" stroke-width="1.5"/>
<line x1="301.62" y1="439.1" x2="308.82" y2="439.1" stroke="#4a4a4a" stroke-width="1.5"/>
<line x1="309.7" y1="440.5" x2="309.7" y2="454.1" stroke="#4a4a4a" stroke-width="1.3"/>
<line x1="306.1" y1="440.5" x2="313.3" y2="440.5" stroke="#4a4a4a" stroke-width="1.5"/>
<line x1="306.1" y1="454.1" x2="313.3" y2="454.1" stroke="#4a4a4a" stroke-width="1.5"/>
<line x1="314.17" y1="445.6" x2="314.17" y2="454.4" stroke="#4a4a4a" stroke-width="1.3"/>
<line x1="310.57" y1="445.6" x2="317.77" y2="445.6" stroke="#4a4a4a" stroke-width="1.5"/>
<line x1="310.57" y1="454.4" x2="317.77" y2="454.4" stroke="#4a4a4a" stroke-width="1.5"/>
<line x1="334.33" y1="466.7" x2="334.33" y2="471.5" stroke="#4a4a4a" stroke-width="1.3"/>
<line x1="330.73" y1="466.7" x2="337.93" y2="466.7" stroke="#4a4a4a" stroke-width="1.5"/>
<line x1="330.73" y1="471.5" x2="337.93" y2="471.5" stroke="#4a4a4a" stroke-width="1.5"/>
<line x1="338.81" y1="456.5" x2="338.81" y2="470.1" stroke="#4a4a4a" stroke-width="1.3"/>
<line x1="335.21" y1="456.5" x2="342.41" y2="456.5" stroke="#4a4a4a" stroke-width="1.5"/>
<line x1="335.21" y1="470.1" x2="342.41" y2="470.1" stroke="#4a4a4a" stroke-width="1.5"/>
<line x1="343.29" y1="441.2" x2="343.29" y2="450.8" stroke="#4a4a4a" stroke-width="1.3"/>
<line x1="339.69" y1="441.2" x2="346.89" y2="441.2" stroke="#4a4a4a" stroke-width="1.5"/>
<line x1="339.69" y1="450.8" x2="346.89" y2="450.8" stroke="#4a4a4a" stroke-width="1.5"/>
<line x1="363.45" y1="413.3" x2="363.45" y2="419.5" stroke="#4a4a4a" stroke-width="1.3"/>
<line x1="359.85" y1="413.3" x2="367.05" y2="413.3" stroke="#4a4a4a" stroke-width="1.5"/>
<line x1="359.85" y1="419.5" x2="367.05" y2="419.5" stroke="#4a4a4a" stroke-width="1.5"/>
<line x1="367.93" y1="417" x2="367.93" y2="427.6" stroke="#4a4a4a" stroke-width="1.3"/>
<line x1="364.33" y1="417" x2="371.53" y2="417" stroke="#4a4a4a" stroke-width="1.5"/>
<line x1="364.33" y1="427.6" x2="371.53" y2="427.6" stroke="#4a4a4a" stroke-width="1.5"/>
<line x1="372.41" y1="417.4" x2="372.41" y2="432.4" stroke="#4a4a4a" stroke-width="1.3"/>
<line x1="368.81" y1="417.4" x2="376.01" y2="417.4" stroke="#4a4a4a" stroke-width="1.5"/>
<line x1="368.81" y1="432.4" x2="376.01" y2="432.4" stroke="#4a4a4a" stroke-width="1.5"/>
<line x1="376.89" y1="399.8" x2="376.89" y2="403.6" stroke="#4a4a4a" stroke-width="1.3"/>
<line x1="373.29" y1="399.8" x2="380.49" y2="399.8" stroke="#4a4a4a" stroke-width="1.5"/>
<line x1="373.29" y1="403.6" x2="380.49" y2="403.6" stroke="#4a4a4a" stroke-width="1.5"/>
<line x1="377.77" y1="411.7" x2="384.97" y2="411.7" stroke="#4a4a4a" stroke-width="1.5"/>
<line x1="377.77" y1="413.3" x2="384.97" y2="413.3" stroke="#4a4a4a" stroke-width="1.5"/>
<line x1="392.57" y1="400.1" x2="392.57" y2="417.9" stroke="#4a4a4a" stroke-width="1.3"/>
<line x1="388.97" y1="400.1" x2="396.17" y2="400.1" stroke="#4a4a4a" stroke-width="1.5"/>
<line x1="388.97" y1="417.9" x2="396.17" y2="417.9" stroke="#4a4a4a" stroke-width="1.5"/>
<line x1="397.05" y1="442" x2="397.05" y2="448.8" stroke="#4a4a4a" stroke-width="1.3"/>
<line x1="393.45" y1="442" x2="400.65" y2="442" stroke="#4a4a4a" stroke-width="1.5"/>
<line x1="393.45" y1="448.8" x2="400.65" y2="448.8" stroke="#4a4a4a" stroke-width="1.5"/>
<line x1="401.52" y1="448.7" x2="401.52" y2="454.3" stroke="#4a4a4a" stroke-width="1.3"/>
<line x1="397.92" y1="448.7" x2="405.12" y2="448.7" stroke="#4a4a4a" stroke-width="1.5"/>
<line x1="397.92" y1="454.3" x2="405.12" y2="454.3" stroke="#4a4a4a" stroke-width="1.5"/>
<line x1="406" y1="389.2" x2="406" y2="396.8" stroke="#4a4a4a" stroke-width="1.3"/>
<line x1="402.4" y1="389.2" x2="409.6" y2="389.2" stroke="#4a4a4a" stroke-width="1.5"/>
<line x1="402.4" y1="396.8" x2="409.6" y2="396.8" stroke="#4a4a4a" stroke-width="1.5"/>
<line x1="410.48" y1="391.3" x2="410.48" y2="393.9" stroke="#4a4a4a" stroke-width="1.3"/>
<line x1="406.88" y1="391.3" x2="414.08" y2="391.3" stroke="#4a4a4a" stroke-width="1.5"/>
<line x1="406.88" y1="393.9" x2="414.08" y2="393.9" stroke="#4a4a4a" stroke-width="1.5"/>
<line x1="421.68" y1="428.9" x2="421.68" y2="448.1" stroke="#4a4a4a" stroke-width="1.3"/>
<line x1="418.08" y1="428.9" x2="425.28" y2="428.9" stroke="#4a4a4a" stroke-width="1.5"/>
<line x1="418.08" y1="448.1" x2="425.28" y2="448.1" stroke="#4a4a4a" stroke-width="1.5"/>
<line x1="426.16" y1="452.3" x2="426.16" y2="461.7" stroke="#4a4a4a" stroke-width="1.3"/>
<line x1="422.56" y1="452.3" x2="429.76" y2="452.3" stroke="#4a4a4a" stroke-width="1.5"/>
<line x1="422.56" y1="461.7" x2="429.76" y2="461.7" stroke="#4a4a4a" stroke-width="1.5"/>
<line x1="430.64" y1="465.8" x2="430.64" y2="469.2" stroke="#4a4a4a" stroke-width="1.3"/>
<line x1="427.04" y1="465.8" x2="434.24" y2="465.8" stroke="#4a4a4a" stroke-width="1.5"/>
<line x1="427.04" y1="469.2" x2="434.24" y2="469.2" stroke="#4a4a4a" stroke-width="1.5"/>
<line x1="435.12" y1="412.4" x2="435.12" y2="420" stroke="#4a4a4a" stroke-width="1.3"/>
<line x1="431.52" y1="412.4" x2="438.72" y2="412.4" stroke="#4a4a4a" stroke-width="1.5"/>
<line x1="431.52" y1="420" x2="438.72" y2="420" stroke="#4a4a4a" stroke-width="1.5"/>
<line x1="439.6" y1="412.9" x2="439.6" y2="422.1" stroke="#4a4a4a" stroke-width="1.3"/>
<line x1="436" y1="412.9" x2="443.2" y2="412.9" stroke="#4a4a4a" stroke-width="1.5"/>
<line x1="436" y1="422.1" x2="443.2" y2="422.1" stroke="#4a4a4a" stroke-width="1.5"/>
<path d="M270.5 374.6V539.2M270.5 494.2H445.2V539.2M357.85 494.2V539.2" fill="none" stroke="#262626" stroke-width="1.2"/>
<text x="259.3" y="498.5" text-anchor="end" font-size="12.6">0</text>
<text x="259.3" y="458.63" text-anchor="end" font-size="12.6">8</text>
<text x="259.3" y="418.77" text-anchor="end" font-size="12.6">16</text>
<text x="259.3" y="378.9" text-anchor="end" font-size="12.6">24</text>
<path d="M270.5 494.2h3.6M270.5 454.33h3.6M270.5 414.47h3.6M270.5 374.6h3.6" stroke="#262626" stroke-width="1.2"/>
<text x="285.06" y="513" text-anchor="middle" font-size="13">leaf</text>
<text x="314.18" y="513" text-anchor="middle" font-size="13">stem</text>
<text x="343.29" y="513" text-anchor="middle" font-size="13">root</text>
<text x="372.41" y="513" text-anchor="middle" font-size="13">leaf</text>
<text x="401.52" y="513" text-anchor="middle" font-size="13">stem</text>
<text x="430.64" y="513" text-anchor="middle" font-size="13">root</text>
<text x="314.18" y="535.7" text-anchor="middle" font-size="13">15d</text>
<text x="401.53" y="535.7" text-anchor="middle" font-size="13">30d</text>
<text x="234.9" y="535" font-size="14" font-weight="bold">H</text>
<text transform="translate(244.7,380.6) rotate(-90)" text-anchor="end" font-size="13">GSH content (μg•g<tspan font-size="8.5" dy="-2.6">-1</tspan><tspan dy="2.6">)</tspan></text>
<text class="l" x="275.1" y="418.6" text-anchor="middle" font-size="10.6">a</text>
<rect x="277.8" y="422.5" width="6" height="9" fill="#fff"/>
<text class="l" x="280.8" y="430.5" text-anchor="middle" font-size="10.6">b</text>
<rect x="282" y="428.3" width="6" height="9" fill="#fff"/>
<text class="l" x="285" y="436.3" text-anchor="middle" font-size="10.6">b</text>
<text class="l" x="305.1" y="426.2" text-anchor="middle" font-size="10.6">a</text>
<rect x="308.9" y="432.2" width="6" height="9" fill="#fff"/>
<text class="l" x="311.9" y="440.2" text-anchor="middle" font-size="10.6">b</text>
<rect x="313" y="439.5" width="6" height="9" fill="#fff"/>
<text class="l" x="316" y="447.5" text-anchor="middle" font-size="10.6">b</text>
<text class="l" x="333" y="463.2" text-anchor="middle" font-size="10.6">b</text>
<text class="l" x="337.8" y="454.3" text-anchor="middle" font-size="10.6">b</text>
<text class="l" x="343.2" y="433.4" text-anchor="middle" font-size="10.6">a</text>
<text class="l" x="362.3" y="407.2" text-anchor="middle" font-size="10.6">bc</text>
<text class="l" x="369.4" y="407" text-anchor="middle" font-size="10.6">c</text>
<text class="l" x="377" y="416.9" text-anchor="middle" font-size="10.6">c</text>
<text class="l" x="379.1" y="395.1" text-anchor="middle" font-size="10.6">a</text>
<rect x="380.8" y="402.3" width="6" height="9" fill="#fff"/>
<text class="l" x="383.8" y="410.3" text-anchor="middle" font-size="10.6">b</text>
<text class="l" x="393" y="395.5" text-anchor="middle" font-size="10.6">b</text>
<text class="l" x="398.8" y="435.4" text-anchor="middle" font-size="10.6">c</text>
<text class="l" x="402.3" y="442.3" text-anchor="middle" font-size="10.6">c</text>
<text class="l" x="405.8" y="383.4" text-anchor="middle" font-size="10.6">a</text>
<text class="l" x="413.2" y="384" text-anchor="middle" font-size="10.6">a</text>
<text class="l" x="421.8" y="422.2" text-anchor="middle" font-size="10.6">b</text>
<text class="l" x="426.3" y="447.7" text-anchor="middle" font-size="10.6">c</text>
<text class="l" x="431" y="455.8" text-anchor="middle" font-size="10.6">d</text>
<text class="l" x="432.5" y="401.3" text-anchor="middle" font-size="10.6" font-weight="bold">a</text>
<text class="l" x="440.7" y="403.3" text-anchor="middle" font-size="10.6">a</text>
<rect x="244.1" y="548.8" width="5" height="4.6" fill="#4F81BD"/>
<text x="251.8" y="553.8" font-size="11">control</text>
<rect x="310.3" y="548.8" width="5" height="4.6" fill="#C0504D"/>
<text x="318" y="553.8" font-size="11">Cd-8</text>
<rect x="377.4" y="548.8" width="5" height="4.6" fill="#9BBB59"/>
<text x="385.1" y="553.8" font-size="11">Cd-40</text>
<rect x="244.1" y="560.6" width="5" height="4.6" fill="#8064A2"/>
<text x="251.8" y="565.6" font-size="11">Cd-40+SNP</text>
<rect x="310.3" y="560.6" width="5" height="4.6" fill="#4BACC6"/>
<text x="318" y="565.6" font-size="11">Cd-40+SA</text>
<rect x="458.9" y="366.7" width="224.8" height="202.7" fill="#fff" stroke="#dadada" stroke-width="1.5"/>
<rect x="506.78" y="448.6" width="4.38" height="46.7" fill="#4F81BD"/>
<rect x="511.16" y="433" width="4.38" height="62.3" fill="#C0504D"/>
<rect x="515.54" y="410.6" width="4.38" height="84.7" fill="#9BBB59"/>
<rect x="535.25" y="480.8" width="4.38" height="14.5" fill="#4F81BD"/>
<rect x="539.63" y="479.2" width="4.38" height="16.1" fill="#C0504D"/>
<rect x="544.01" y="467.5" width="4.38" height="27.8" fill="#9BBB59"/>
<rect x="563.72" y="483.2" width="4.38" height="12.1" fill="#4F81BD"/>
<rect x="568.1" y="482.2" width="4.38" height="13.1" fill="#C0504D"/>
<rect x="572.48" y="481.2" width="4.38" height="14.1" fill="#9BBB59"/>
<rect x="592.18" y="450.4" width="4.38" height="44.9" fill="#4F81BD"/>
<rect x="596.56" y="420.3" width="4.38" height="75" fill="#C0504D"/>
<rect x="600.94" y="406.2" width="4.38" height="89.1" fill="#9BBB59"/>
<rect x="605.32" y="432.3" width="4.38" height="63" fill="#8064A2"/>
<rect x="609.7" y="417.2" width="4.38" height="78.1" fill="#4BACC6"/>
<rect x="620.65" y="477.9" width="4.38" height="17.4" fill="#4F81BD"/>
<rect x="625.03" y="475.2" width="4.38" height="20.1" fill="#C0504D"/>
<rect x="629.41" y="458.3" width="4.38" height="37" fill="#9BBB59"/>
<rect x="633.79" y="471.6" width="4.38" height="23.7" fill="#8064A2"/>
<rect x="638.17" y="464.8" width="4.38" height="30.5" fill="#4BACC6"/>
<rect x="649.12" y="481.6" width="4.38" height="13.7" fill="#4F81BD"/>
<rect x="653.5" y="479.6" width="4.38" height="15.7" fill="#C0504D"/>
<rect x="657.88" y="474.4" width="4.38" height="20.9" fill="#9BBB59"/>
<rect x="662.26" y="484.4" width="4.38" height="10.9" fill="#8064A2"/>
<rect x="666.64" y="483.2" width="4.38" height="12.1" fill="#4BACC6"/>
<line x1="508.97" y1="444.4" x2="508.97" y2="452.8" stroke="#4a4a4a" stroke-width="1.3"/>
<line x1="505.37" y1="444.4" x2="512.57" y2="444.4" stroke="#4a4a4a" stroke-width="1.5"/>
<line x1="505.37" y1="452.8" x2="512.57" y2="452.8" stroke="#4a4a4a" stroke-width="1.5"/>
<line x1="513.35" y1="427.6" x2="513.35" y2="438.4" stroke="#4a4a4a" stroke-width="1.3"/>
<line x1="509.75" y1="427.6" x2="516.95" y2="427.6" stroke="#4a4a4a" stroke-width="1.5"/>
<line x1="509.75" y1="438.4" x2="516.95" y2="438.4" stroke="#4a4a4a" stroke-width="1.5"/>
<line x1="517.73" y1="407.8" x2="517.73" y2="413.4" stroke="#4a4a4a" stroke-width="1.3"/>
<line x1="514.13" y1="407.8" x2="521.33" y2="407.8" stroke="#4a4a4a" stroke-width="1.5"/>
<line x1="514.13" y1="413.4" x2="521.33" y2="413.4" stroke="#4a4a4a" stroke-width="1.5"/>
<line x1="537.44" y1="479.7" x2="537.44" y2="481.9" stroke="#4a4a4a" stroke-width="1.3"/>
<line x1="533.84" y1="479.7" x2="541.04" y2="479.7" stroke="#4a4a4a" stroke-width="1.5"/>
<line x1="533.84" y1="481.9" x2="541.04" y2="481.9" stroke="#4a4a4a" stroke-width="1.5"/>
<line x1="541.82" y1="476.8" x2="541.82" y2="481.6" stroke="#4a4a4a" stroke-width="1.3"/>
<line x1="538.22" y1="476.8" x2="545.42" y2="476.8" stroke="#4a4a4a" stroke-width="1.5"/>
<line x1="538.22" y1="481.6" x2="545.42" y2="481.6" stroke="#4a4a4a" stroke-width="1.5"/>
<line x1="546.2" y1="464.2" x2="546.2" y2="470.8" stroke="#4a4a4a" stroke-width="1.3"/>
<line x1="542.6" y1="464.2" x2="549.8" y2="464.2" stroke="#4a4a4a" stroke-width="1.5"/>
<line x1="542.6" y1="470.8" x2="549.8" y2="470.8" stroke="#4a4a4a" stroke-width="1.5"/>
<line x1="565.91" y1="481.6" x2="565.91" y2="484.8" stroke="#4a4a4a" stroke-width="1.3"/>
<line x1="562.31" y1="481.6" x2="569.51" y2="481.6" stroke="#4a4a4a" stroke-width="1.5"/>
<line x1="562.31" y1="484.8" x2="569.51" y2="484.8" stroke="#4a4a4a" stroke-width="1.5"/>
<line x1="570.29" y1="481" x2="570.29" y2="483.4" stroke="#4a4a4a" stroke-width="1.3"/>
<line x1="566.69" y1="481" x2="573.89" y2="481" stroke="#4a4a4a" stroke-width="1.5"/>
<line x1="566.69" y1="483.4" x2="573.89" y2="483.4" stroke="#4a4a4a" stroke-width="1.5"/>
<line x1="574.67" y1="480.1" x2="574.67" y2="482.3" stroke="#4a4a4a" stroke-width="1.3"/>
<line x1="571.07" y1="480.1" x2="578.27" y2="480.1" stroke="#4a4a4a" stroke-width="1.5"/>
<line x1="571.07" y1="482.3" x2="578.27" y2="482.3" stroke="#4a4a4a" stroke-width="1.5"/>
<line x1="594.37" y1="447.3" x2="594.37" y2="453.5" stroke="#4a4a4a" stroke-width="1.3"/>
<line x1="590.77" y1="447.3" x2="597.97" y2="447.3" stroke="#4a4a4a" stroke-width="1.5"/>
<line x1="590.77" y1="453.5" x2="597.97" y2="453.5" stroke="#4a4a4a" stroke-width="1.5"/>
<line x1="598.75" y1="416.5" x2="598.75" y2="424.1" stroke="#4a4a4a" stroke-width="1.3"/>
<line x1="595.15" y1="416.5" x2="602.35" y2="416.5" stroke="#4a4a4a" stroke-width="1.5"/>
<line x1="595.15" y1="424.1" x2="602.35" y2="424.1" stroke="#4a4a4a" stroke-width="1.5"/>
<line x1="603.13" y1="398.5" x2="603.13" y2="413.9" stroke="#4a4a4a" stroke-width="1.3"/>
<line x1="599.53" y1="398.5" x2="606.73" y2="398.5" stroke="#4a4a4a" stroke-width="1.5"/>
<line x1="599.53" y1="413.9" x2="606.73" y2="413.9" stroke="#4a4a4a" stroke-width="1.5"/>
<line x1="607.51" y1="430.9" x2="607.51" y2="433.7" stroke="#4a4a4a" stroke-width="1.3"/>
<line x1="603.91" y1="430.9" x2="611.11" y2="430.9" stroke="#4a4a4a" stroke-width="1.5"/>
<line x1="603.91" y1="433.7" x2="611.11" y2="433.7" stroke="#4a4a4a" stroke-width="1.5"/>
<line x1="611.89" y1="415.9" x2="611.89" y2="418.5" stroke="#4a4a4a" stroke-width="1.3"/>
<line x1="608.29" y1="415.9" x2="615.49" y2="415.9" stroke="#4a4a4a" stroke-width="1.5"/>
<line x1="608.29" y1="418.5" x2="615.49" y2="418.5" stroke="#4a4a4a" stroke-width="1.5"/>
<line x1="622.84" y1="476.9" x2="622.84" y2="478.9" stroke="#4a4a4a" stroke-width="1.3"/>
<line x1="619.24" y1="476.9" x2="626.44" y2="476.9" stroke="#4a4a4a" stroke-width="1.5"/>
<line x1="619.24" y1="478.9" x2="626.44" y2="478.9" stroke="#4a4a4a" stroke-width="1.5"/>
<line x1="623.62" y1="474.4" x2="630.82" y2="474.4" stroke="#4a4a4a" stroke-width="1.5"/>
<line x1="623.62" y1="476" x2="630.82" y2="476" stroke="#4a4a4a" stroke-width="1.5"/>
<line x1="631.6" y1="453.5" x2="631.6" y2="463.1" stroke="#4a4a4a" stroke-width="1.3"/>
<line x1="628" y1="453.5" x2="635.2" y2="453.5" stroke="#4a4a4a" stroke-width="1.5"/>
<line x1="628" y1="463.1" x2="635.2" y2="463.1" stroke="#4a4a4a" stroke-width="1.5"/>
<line x1="635.98" y1="469.2" x2="635.98" y2="474" stroke="#4a4a4a" stroke-width="1.3"/>
<line x1="632.38" y1="469.2" x2="639.58" y2="469.2" stroke="#4a4a4a" stroke-width="1.5"/>
<line x1="632.38" y1="474" x2="639.58" y2="474" stroke="#4a4a4a" stroke-width="1.5"/>
<line x1="640.36" y1="462.4" x2="640.36" y2="467.2" stroke="#4a4a4a" stroke-width="1.3"/>
<line x1="636.76" y1="462.4" x2="643.96" y2="462.4" stroke="#4a4a4a" stroke-width="1.5"/>
<line x1="636.76" y1="467.2" x2="643.96" y2="467.2" stroke="#4a4a4a" stroke-width="1.5"/>
<line x1="651.31" y1="480.6" x2="651.31" y2="482.6" stroke="#4a4a4a" stroke-width="1.3"/>
<line x1="647.71" y1="480.6" x2="654.91" y2="480.6" stroke="#4a4a4a" stroke-width="1.5"/>
<line x1="647.71" y1="482.6" x2="654.91" y2="482.6" stroke="#4a4a4a" stroke-width="1.5"/>
<line x1="655.69" y1="478.2" x2="655.69" y2="481" stroke="#4a4a4a" stroke-width="1.3"/>
<line x1="652.09" y1="478.2" x2="659.29" y2="478.2" stroke="#4a4a4a" stroke-width="1.5"/>
<line x1="652.09" y1="481" x2="659.29" y2="481" stroke="#4a4a4a" stroke-width="1.5"/>
<line x1="660.07" y1="470.7" x2="660.07" y2="478.1" stroke="#4a4a4a" stroke-width="1.3"/>
<line x1="656.47" y1="470.7" x2="663.67" y2="470.7" stroke="#4a4a4a" stroke-width="1.5"/>
<line x1="656.47" y1="478.1" x2="663.67" y2="478.1" stroke="#4a4a4a" stroke-width="1.5"/>
<line x1="660.85" y1="483.7" x2="668.05" y2="483.7" stroke="#4a4a4a" stroke-width="1.5"/>
<line x1="660.85" y1="485.1" x2="668.05" y2="485.1" stroke="#4a4a4a" stroke-width="1.5"/>
<line x1="665.23" y1="482.6" x2="672.43" y2="482.6" stroke="#4a4a4a" stroke-width="1.5"/>
<line x1="665.23" y1="483.8" x2="672.43" y2="483.8" stroke="#4a4a4a" stroke-width="1.5"/>
<path d="M503.5 374.4V540.8M503.5 495.3H674.3V540.8M588.9 495.3V540.8" fill="none" stroke="#262626" stroke-width="1.2"/>
<text x="492.3" y="499.6" text-anchor="end" font-size="12.6">0</text>
<text x="492.3" y="459.3" text-anchor="end" font-size="12.6">8</text>
<text x="492.3" y="419" text-anchor="end" font-size="12.6">16</text>
<text x="492.3" y="378.7" text-anchor="end" font-size="12.6">24</text>
<path d="M503.5 495.3h3.6M503.5 455h3.6M503.5 414.7h3.6M503.5 374.4h3.6" stroke="#262626" stroke-width="1.2"/>
<text x="517.73" y="514.5" text-anchor="middle" font-size="13">leaf</text>
<text x="546.2" y="514.5" text-anchor="middle" font-size="13">stem</text>
<text x="574.67" y="514.5" text-anchor="middle" font-size="13">root</text>
<text x="603.13" y="514.5" text-anchor="middle" font-size="13">leaf</text>
<text x="631.6" y="514.5" text-anchor="middle" font-size="13">stem</text>
<text x="660.07" y="514.5" text-anchor="middle" font-size="13">root</text>
<text x="546.2" y="537.5" text-anchor="middle" font-size="13">15d</text>
<text x="631.6" y="537.5" text-anchor="middle" font-size="13">30d</text>
<text x="470.6" y="533.7" font-size="14" font-weight="bold">I</text>
<text transform="translate(473.9,380.6) rotate(-90)" text-anchor="end" font-size="13">GSSG content (μg•g<tspan font-size="8.5" dy="-2.6">-1</tspan><tspan dy="2.6">)</tspan></text>
<text class="l" x="507.5" y="439" text-anchor="middle" font-size="10.6">c</text>
<text class="l" x="513.1" y="424" text-anchor="middle" font-size="10.6">b</text>
<text class="l" x="517.8" y="400.3" text-anchor="middle" font-size="10.6">a</text>
<text class="l" x="533.8" y="476.2" text-anchor="middle" font-size="10.6">b</text>
<text class="l" x="538.5" y="472.1" text-anchor="middle" font-size="10.6">b</text>
<text class="l" x="546" y="457.2" text-anchor="middle" font-size="10.6">a</text>
<text class="l" x="564.8" y="473.5" text-anchor="middle" font-size="10.6">a</text>
<text class="l" x="569.5" y="473.1" text-anchor="middle" font-size="10.6">a</text>
<text class="l" x="575.1" y="468.4" text-anchor="middle" font-size="10.6">a</text>
<text class="l" x="593.2" y="441.5" text-anchor="middle" font-size="10.6">d</text>
<text class="l" x="597.7" y="414.4" text-anchor="middle" font-size="10.6">b</text>
<text class="l" x="603.5" y="391.6" text-anchor="middle" font-size="10.6">a</text>
<text class="l" x="607.2" y="428.6" text-anchor="middle" font-size="10.6">c</text>
<text class="l" x="613.3" y="408.6" text-anchor="middle" font-size="10.6">b</text>
<text class="l" x="621.5" y="471.7" text-anchor="middle" font-size="10.6">c</text>
<text class="l" x="627.1" y="466.6" text-anchor="middle" font-size="10.6">c</text>
<text class="l" x="631.8" y="449.7" text-anchor="middle" font-size="10.6">a</text>
<text class="l" x="638.4" y="466.1" text-anchor="middle" font-size="10.6" font-weight="bold">c</text>
<text class="l" x="643.5" y="459.1" text-anchor="middle" font-size="10.6">b</text>
<text class="l" x="646.6" y="480.5" text-anchor="middle" font-size="10.6">c</text>
<text class="l" x="652.7" y="473.7" text-anchor="middle" font-size="10.6">ab</text>
<text class="l" x="660.5" y="463.5" text-anchor="middle" font-size="10.6">a</text>
<text class="l" x="666.7" y="471.1" text-anchor="middle" font-size="10.6">c</text>
<text class="l" x="669.6" y="477.8" text-anchor="middle" font-size="10.6">c</text>
<rect x="471.1" y="550.5" width="5" height="4.6" fill="#4F81BD"/>
<text x="478.5" y="555.5" font-size="11">control</text>
<rect x="537.3" y="550.5" width="5" height="4.6" fill="#C0504D"/>
<text x="544.7" y="555.5" font-size="11">Cd-8</text>
<rect x="604.4" y="550.5" width="5" height="4.6" fill="#9BBB59"/>
<text x="611.8" y="555.5" font-size="11">Cd-40</text>
<rect x="471.1" y="562.3" width="5" height="4.6" fill="#8064A2"/>
<text x="478.5" y="567.3" font-size="11">Cd-40+SNP</text>
<rect x="537.3" y="562.3" width="5" height="4.6" fill="#4BACC6"/>
<text x="544.7" y="567.3" font-size="11">Cd-40+SA</text>
</svg></body></html>
